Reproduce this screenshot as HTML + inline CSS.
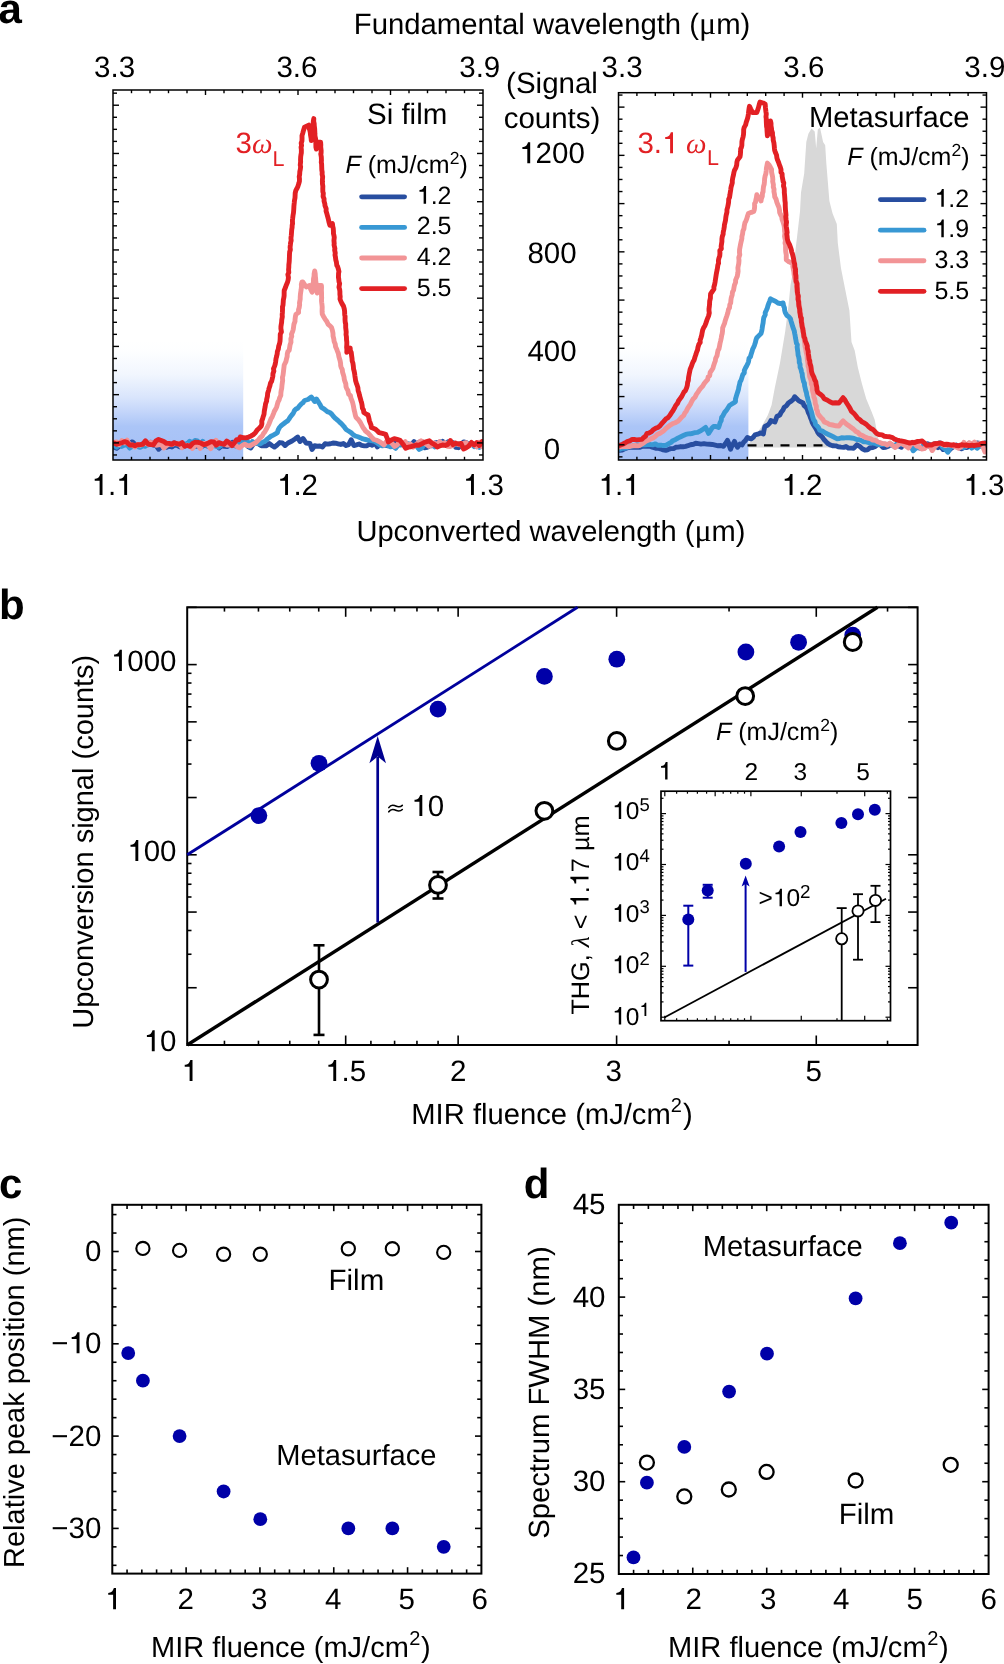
<!DOCTYPE html>
<html><head><meta charset="utf-8"><style>
html,body{margin:0;padding:0;background:#fff;}
body{width:1004px;height:1664px;overflow:hidden;font-family:"Liberation Sans",sans-serif;}
svg{display:block;will-change:transform;}
</style></head><body>
<svg width="1004" height="1664" viewBox="0 0 1004 1664" font-family="Liberation Sans, sans-serif" text-rendering="geometricPrecision">
<defs>
<linearGradient id="gb" gradientUnits="userSpaceOnUse" x1="0" y1="340" x2="0" y2="460"><stop offset="0" stop-color="#ffffff"/><stop offset="0.1" stop-color="#fdfeff"/><stop offset="0.29" stop-color="#f1f6fe"/><stop offset="0.48" stop-color="#d9e5fc"/><stop offset="0.6" stop-color="#c3d5fa"/><stop offset="0.72" stop-color="#abc5f7"/><stop offset="1" stop-color="#a5c0f6"/></linearGradient>
<clipPath id="cpa"><rect x="113" y="90" width="370" height="370"/></clipPath>
<clipPath id="cpb"><rect x="618.5" y="92.7" width="368.0" height="367.3"/></clipPath>
</defs>
<rect width="1004" height="1664" fill="#fff"/>
<text x="-1.5" y="23" font-size="42" text-anchor="start" font-weight="bold">a</text>
<text x="353.8" y="34" font-size="29.3">Fundamental wavelength (<tspan font-family="Liberation Serif" font-size="32">μ</tspan>m)</text>
<rect x="113" y="340" width="130.2" height="120" fill="url(#gb)"/>
<rect x="618.5" y="340" width="129.89999999999998" height="120" fill="url(#gb)"/>
<path d="M748.4 447.5 L748.4 444 L755 436 L762 426 L767.9 415 L771.6 405.1 L774.7 388.2 L780 363 L785.2 331.4 L788.4 306.2 L790.5 285.1 L793.6 268.3 L795.8 247.3 L796.8 238.9 L800 211.5 L801 192.6 L804.2 173.6 L806.3 142.1 L808.4 133.7 L811.5 128.4 L814.7 131.6 L816.2 148.4 L817.8 129.5 L820 127.4 L823.1 142.1 L825.2 145.2 L826.3 163.1 L829.4 201 L832.6 213.6 L836.8 224.1 L837.8 243.1 L841 268.3 L845.2 289.4 L849.4 310.4 L851.5 342 L854.7 350.4 L857.8 367.2 L862 384 L866.2 398.8 L871.5 411.4 L874.7 419.8 L877.8 436.6 L879.9 445 L881 447.5 Z" fill="#d8d8d8"/>
<line x1="747.5" y1="445.3" x2="838" y2="445.3" stroke="#000" stroke-width="2.2" stroke-dasharray="9 7.5"/>
<g clip-path="url(#cpa)">
<path d="M114 447.19 L116.63 448.23 L119.26 446.24 L121.89 444.14 L124.52 442.84 L127.15 444.3 L129.78 443.02 L132.42 441.86 L135.05 444.24 L137.68 444.96 L140.31 445.92 L142.94 443.77 L145.57 444.58 L148.2 444.74 L150.83 442.35 L153.46 444.99 L156.09 445.54 L158.72 449.25 L161.35 446.83 L163.98 445.4 L166.62 447.23 L169.25 446.12 L171.88 446.94 L174.51 445.06 L177.14 445.39 L179.77 446.88 L182.4 446.84 L185.03 445.86 L187.66 443.46 L190.29 445.22 L192.92 445.21 L195.55 446.3 L198.18 445.82 L200.82 447.14 L203.45 445.66 L206.08 445.57 L208.71 446.33 L211.34 443.62 L213.97 443.83 L216.6 443.74 L219.23 447.93 L221.86 445.87 L224.49 446.41 L227.12 446.55 L229.75 445.06 L232.38 442.39 L235.02 445.73 L237.65 444.56 L240.28 446.07 L242.91 443.15 L245.54 443.61 L248.17 446.65 L250.8 448.01 L253.43 443.84 L256.06 442.33 L258.69 443.99 L261.32 445.88 L263.95 445.58 L266.58 445.72 L269.22 443.57 L271.85 445.5 L274.48 447.07 L277.11 444.98 L279.74 442.56 L282.37 442.86 L285 445.54 L288 443 L292 441 L295 439 L297.7 437 L299.01 439.71 L300 441.5 L303 438.5 L304.34 440.45 L306 443 L310 443.5 L312 449.47 L314.62 445.76 L317.23 446.26 L319.85 446.02 L322.46 447.1 L325.08 443.68 L327.69 444.16 L330.31 443.75 L332.92 443.06 L335.54 443.21 L338.15 443.83 L340.77 444.43 L343.38 443.58 L346 445.55 L348.62 444.59 L351.23 439.74 L353.85 445.51 L356.46 444.84 L359.08 444 L361.69 445.43 L364.31 445.87 L366.92 445.72 L369.54 444.12 L372.15 445.34 L374.77 442.83 L377.38 447.02 L380 443.88 L382.62 444.58 L385.23 445.21 L387.85 445.77 L390.46 445.18 L393.08 446.21 L395.69 439.57 L398.31 443.03 L400.92 444.14 L403.54 444.07 L406.15 447.38 L408.77 444.28 L411.38 444.71 L414 441.54 L416.62 444.36 L419.23 442.11 L421.85 441.41 L424.46 447.87 L427.08 447.31 L429.69 445.89 L432.31 445.71 L434.92 442.88 L437.54 442.55 L440.15 444.97 L442.77 441.45 L445.38 444.33 L448 441.88 L450.62 444.22 L453.23 442.91 L455.85 447.39 L458.46 447.69 L461.08 445.15 L463.69 441.9 L466.31 442.66 L468.92 444.18 L471.54 443.1 L474.15 444.93 L476.77 446.78 L479.38 445.63 L482 444.57" fill="none" stroke="#284ea0" stroke-width="4.9" stroke-linejoin="round" stroke-linecap="round" />
<path d="M114 445.16 L116.61 447.18 L119.22 444.18 L121.83 446.4 L124.44 445.05 L127.06 444.57 L129.67 448.08 L132.28 446.35 L134.89 445.4 L137.5 446.38 L140.11 447.4 L142.72 445.79 L145.33 446.28 L147.94 443.79 L150.56 443.95 L153.17 443.89 L155.78 442.35 L158.39 441.51 L161 441.01 L163.61 443.2 L166.22 444.08 L168.83 444.13 L171.44 444.81 L174.06 442.66 L176.67 444.05 L179.28 445.07 L181.89 446.3 L184.5 444.02 L187.11 443.98 L189.72 441.22 L192.33 442.82 L194.94 440.5 L197.56 441.01 L200.17 445.48 L202.78 441.42 L205.39 445.11 L208 445.59 L210.61 444.68 L213.22 445.67 L215.83 446.13 L218.44 447.17 L221.06 445.37 L223.67 444.12 L226.28 443.66 L228.89 442.86 L231.5 444.17 L234.11 443.37 L236.72 446.25 L239.33 442.26 L241.94 442.18 L244.56 442.39 L247.17 440.53 L249.78 446.67 L252.39 441.49 L255 443.29 L260.5 443.7 L262.71 442.18 L265.45 440.94 L266.84 439.44 L268.9 437.8 L270.91 436.26 L273.27 435.09 L275.45 433.9 L277.4 432.7 L278.14 429.98 L279.48 427.5 L280.8 426 L283.05 424.19 L285.54 422.28 L287.6 420.9 L288.95 419.13 L290.56 416.56 L292.14 414.72 L293.46 412.86 L294.51 410.53 L296 409 L297.67 408.18 L299.26 406.16 L301.39 403.76 L303.05 402.71 L304.5 400.5 L308 399.5 L311.3 397 L312.93 399.06 L314.7 401.5 L316.5 399 L318 401.4 L319.95 404.48 L321.4 407.3 L323.91 408.8 L325.23 409.96 L327.26 411.6 L329.72 412.51 L331.6 414 L333.51 416.45 L335.72 418.7 L337.68 420.28 L340 422.5 L341.58 423.82 L344 426.52 L344.96 427.89 L346.4 429.76 L348.5 431 L351.01 432.54 L352.96 434.43 L355.3 436 L357.95 436.74 L360.21 437.66 L362.86 438.92 L365.5 439.5 L367.9 440.09 L369.88 440.36 L372.54 440.81 L375 441.5 L380 445.07 L382.62 445.86 L385.23 444.47 L387.85 445.45 L390.46 446.82 L393.08 446.38 L395.69 448.29 L398.31 444.56 L400.92 444.97 L403.54 443.72 L406.15 443.14 L408.77 444.02 L411.38 445.05 L414 445.77 L416.62 446.19 L419.23 449.44 L421.85 448.11 L424.46 443.22 L427.08 444.74 L429.69 443.79 L432.31 443.65 L434.92 446.88 L437.54 445.26 L440.15 441.58 L442.77 444.36 L445.38 444.25 L448 442.62 L450.62 442.51 L453.23 443 L455.85 444.26 L458.46 443.97 L461.08 444.77 L463.69 448.22 L466.31 444.69 L468.92 443.44 L471.54 444 L474.15 446.62 L476.77 444.3 L479.38 447.34 L482 443.46" fill="none" stroke="#3898d4" stroke-width="4.9" stroke-linejoin="round" stroke-linecap="round" />
<path d="M114 442.5 L116.62 441.85 L119.23 444.71 L121.85 440.67 L124.46 442.92 L127.08 440.11 L129.69 444.84 L132.31 444.96 L134.92 446.97 L137.54 444.51 L140.15 445.18 L142.77 444.25 L145.38 443.16 L148 444.28 L150.62 442.28 L153.23 443.12 L155.85 445.2 L158.46 444.84 L161.08 443.92 L163.69 448.02 L166.31 445.83 L168.92 443.97 L171.54 444.59 L174.15 443.64 L176.77 443.54 L179.38 443.57 L182 447.62 L184.62 445.63 L187.23 445.19 L189.85 445.89 L192.46 448.41 L195.08 445.49 L197.69 443.79 L200.31 448.46 L202.92 443.4 L205.54 443.49 L208.15 445.28 L210.77 448.66 L213.38 444.34 L216 440.32 L218.62 444.16 L221.23 443.49 L223.85 443.49 L226.46 444.93 L229.08 445.03 L231.69 445.18 L234.31 444.01 L236.92 446.52 L239.54 447.77 L242.15 445.7 L244.77 444.15 L247.38 445.62 L250 445.71 L255.4 442.9 L257.56 440.79 L258.87 439.36 L260.32 437.52 L262.2 436 L263.43 433.61 L264.96 431.63 L266.26 429.3 L267.65 426.58 L268.9 424.2 L269.98 421.31 L270.83 419.09 L272.25 416.69 L273.49 413.61 L274.41 411.13 L275.7 409 L276.75 406.69 L277.41 404.16 L277.97 402.02 L279.06 400.14 L279.62 397.84 L280.8 395.5 L280.89 392.75 L281.28 390.24 L281.73 388.15 L281.99 385.12 L282.29 382.9 L282.66 380.32 L282.43 377.42 L282.97 375.46 L283.31 372.91 L283.68 369.65 L283.91 367.71 L284.2 365 L285.9 361.6 L286.57 358.65 L287.17 356.54 L287.25 354.14 L287.88 351.48 L289.18 350.35 L289.7 347.24 L290.1 344.7 L290.97 342.25 L290.87 338.74 L291.75 336.27 L291.46 334.28 L292.56 331.67 L293.25 329.4 L293.57 327.04 L293.9 324.42 L295 321.48 L295.04 319.44 L295.38 316.7 L296 314.2 L298.6 312.5 L298.51 309.78 L299.16 307.78 L299.64 304.65 L299.49 302.95 L300.19 299.11 L300.22 296.92 L300.44 294.09 L300.77 291.97 L301.09 289.97 L301.47 286.64 L301.34 284.34 L302 282 L302.8 282 L304.73 284.81 L306.2 287 L309.5 285.5 L310.67 289.24 L312.1 292.2 L312.51 289.32 L312.83 286.86 L312.83 284.08 L313.43 282.05 L313.5 279.02 L314.05 276.27 L314.11 274.08 L314.7 271 L315.24 273.99 L315.35 276.4 L315.64 278.67 L315.73 280.85 L316.01 282.84 L316.27 285.26 L316.4 287.96 L316.79 291.27 L317.2 293 L317.83 290.84 L317.89 287.62 L318 285.4 L321.4 285.4 L321.53 287.28 L321.41 290.02 L321.54 292.89 L321.53 295.84 L321.66 297.69 L321.51 300.11 L321.66 302.26 L321.99 304.88 L322.2 307.13 L322.11 310.08 L322.12 311.8 L322.3 314.2 L323.67 316.77 L325.04 319.1 L326.83 321.56 L328.2 324.3 L329.99 325.79 L331.6 327.7 L332.4 330.37 L332.97 333.31 L333.07 336.19 L333.84 339.11 L334.1 341.3 L335.24 344.13 L335.55 346.67 L336.63 349.01 L337.5 351.4 L338.35 353.47 L338.94 356.9 L339.36 358.28 L340.11 360.78 L340.62 363.49 L340.66 365.49 L341.24 367.46 L342.27 369.62 L342.57 372.21 L343.37 374.83 L343.98 376.86 L344.31 379.51 L344.87 381.41 L345.78 383.75 L346.02 386.76 L346.8 388.7 L347.8 390.26 L348.67 394.1 L350.45 395.66 L351.02 398.39 L351.9 400.5 L352.56 402.28 L353.3 405.44 L353.64 407.2 L354.16 410.16 L354.84 412.71 L355.41 415.41 L356.1 417.5 L358.37 419.58 L360.4 422.5 L361.54 424.76 L362.83 427.23 L364.1 428.95 L365.5 431 L367.72 432.71 L369.95 435.16 L371.64 437.12 L373.9 439.5 L376.58 440.26 L380 442 L384 444.9 L386.65 441.09 L389.3 441.59 L391.95 443.29 L394.59 446.4 L397.24 444.85 L399.89 441.31 L402.54 443.62 L405.19 441.71 L407.84 445.41 L410.49 444.03 L413.14 447.22 L415.78 444.89 L418.43 442.47 L421.08 440.82 L423.73 442.24 L426.38 444.18 L429.03 446.21 L431.68 445.25 L434.32 443.11 L436.97 444.59 L439.62 441.62 L442.27 444.08 L444.92 442.68 L447.57 446.23 L450.22 446.57 L452.86 445.56 L455.51 442.71 L458.16 444.54 L460.81 444.85 L463.46 443.31 L466.11 442.64 L468.76 445.81 L471.41 443.91 L474.05 444.77 L476.7 446.77 L479.35 442.3 L482 446.62" fill="none" stroke="#f29496" stroke-width="4.9" stroke-linejoin="round" stroke-linecap="round" />
<path d="M114 443.04 L116.62 444.26 L119.24 443.36 L121.87 442.88 L124.49 441.61 L127.11 442.45 L129.73 445.14 L132.36 444.84 L134.98 445.83 L137.6 444.76 L140.22 444.65 L142.84 444.24 L145.47 440.76 L148.09 444.08 L150.71 444.61 L153.33 444.79 L155.96 440.91 L158.58 439.45 L161.2 440.48 L163.82 441.6 L166.44 443.39 L169.07 443.38 L171.69 444.39 L174.31 442.66 L176.93 443.76 L179.56 444.3 L182.18 442.59 L184.8 446.27 L187.42 445.47 L190.04 446.34 L192.67 443.38 L195.29 442.13 L197.91 442.4 L200.53 442.92 L203.16 444.44 L205.78 444.27 L208.4 442.97 L211.02 441.59 L213.64 441.89 L216.27 445.14 L218.89 442.62 L221.51 443.63 L224.13 444.31 L226.76 441.1 L229.38 442.75 L232 445.59 L235 442 L236.64 439.68 L238.77 439.81 L240.2 437 L243.5 437.8 L246.16 437.89 L248.6 437 L251.16 435.89 L253.32 434.58 L255.4 432.7 L257.31 429.88 L258.94 428.49 L261.3 426 L261.89 423.56 L261.75 421.05 L262.74 418.34 L263.07 417.1 L264.03 414.16 L264.28 411.26 L264.7 409 L265.14 406.73 L265.56 403.84 L266.65 400.89 L266.62 399.53 L267.41 396.38 L267.66 393.24 L268.65 390.25 L268.9 388.7 L269.86 385.94 L270.58 382.8 L271.65 381.28 L272.3 378.5 L272.84 376.22 L272.95 373.68 L273.84 371.14 L273.49 368.68 L274.71 365.85 L275.18 364.33 L275.62 361.89 L276 358.66 L276.6 356.5 L277.23 353.62 L277.34 351.56 L278.3 349.12 L278.67 346.2 L279.55 343.65 L280 341.3 L280.15 338.97 L280.23 336.55 L280.26 334.23 L281.41 331.87 L280.91 328.58 L280.93 326.67 L281.22 324.56 L281.63 322.24 L281.75 319.83 L282.31 316.76 L282.18 314.64 L282.38 312.71 L282.52 309.51 L282.49 306.87 L282.98 305.36 L283.21 302.29 L283.36 299.83 L283.83 297.8 L284.13 295.59 L284.15 292.56 L284.2 290.5 L285.45 287.52 L286.34 284.91 L287.6 282 L288.16 279.75 L288.44 277.37 L287.86 274.48 L288.79 272.46 L288.57 269.62 L288.78 267.51 L288.84 264.89 L289.18 262.05 L289.3 260 L289.41 257.2 L289.49 254.6 L289.65 252.09 L290.35 249.8 L290.1 247.3 L290.43 244.56 L290.61 242.56 L291.17 240.58 L290.94 238.14 L291.29 235.47 L291.49 232.82 L291.72 229.58 L292.1 227.5 L292.18 225.25 L292.55 223.62 L292.43 220.04 L292.69 218.23 L293.07 215.08 L293.47 212.87 L293.72 209.83 L293.83 208.13 L293.93 205.91 L294.27 202.7 L294.43 200.72 L294.99 197.88 L295.11 195.47 L295.2 193.1 L295.86 190.4 L297.06 188.24 L297.77 186.66 L298.8 183.54 L299.4 181.3 L299.49 179.02 L299.22 176.76 L299.67 174.38 L299.81 171.58 L300.28 169.54 L300.64 166.72 L300.24 165.04 L300.63 161.65 L300.54 159.83 L300.68 156.74 L300.93 155.03 L301.34 152.87 L301.37 149.75 L301.06 147.27 L301.59 145.57 L301.19 143.04 L301.94 140.99 L302.04 138.38 L302 135.6 L302.9 132.68 L303.65 129.94 L304.5 127.1 L308.7 125.1 L308.89 127.66 L309.8 130.17 L310.29 132.55 L310.54 135.16 L311.11 138.3 L311.3 140.6 L311.8 138.47 L311.98 136.14 L312.19 132.38 L312.45 131.03 L312.19 128.83 L312.96 126.33 L313.19 123.57 L313.35 120.97 L313.8 118.6 L313.68 121.25 L314.16 123.46 L314.29 125.88 L314.67 128.74 L314.82 131.82 L314.87 133.7 L315.03 136.3 L315.5 138.27 L315.83 140.72 L315.85 143.92 L315.9 147.07 L316.4 149.1 L317.24 145.22 L318 142.3 L320.6 142.3 L320.8 144.91 L320.7 146.92 L321.15 150.55 L321.11 152.95 L320.79 154.02 L321.3 156.85 L321.45 160.24 L321.28 162.18 L321.62 164 L321.69 166.52 L321.8 169.95 L322.2 172.26 L322.11 174.14 L322.66 176.8 L322.41 179.65 L322.39 181.9 L322.53 184.32 L322.85 186.15 L322.78 188.92 L322.83 191.71 L323.32 193.26 L323.1 196.5 L324.05 198.73 L324.05 201.12 L324.84 203.89 L324.97 205.67 L326.15 208.68 L326.07 211.07 L327 214.17 L327.45 215.84 L328.2 218.5 L328.96 222.03 L329.9 225.3 L332.4 223.6 L332.73 226.26 L333.24 228.41 L333.43 230.91 L333.48 233.66 L333.93 235.37 L334.26 237.44 L333.95 240.52 L334.21 243.53 L334.06 245 L334.88 248.51 L334.64 250.07 L335.26 252.95 L335 255.09 L335.45 257.12 L335.8 260 L336.4 262.01 L336.8 265.48 L337.62 266.58 L338.4 269.3 L338.94 271.63 L338.56 273.3 L338.44 277.26 L338.74 279.03 L339.01 281.74 L339.63 283.53 L338.97 287.21 L339.63 289.38 L339.9 291.55 L339.9 294.46 L340.2 296.62 L340 299 L340.82 301.24 L342.11 303.86 L343.49 306.1 L344.3 309 L344.6 311.39 L344.7 314.66 L345.08 316.44 L345.02 319.58 L345.21 322.15 L345.68 324.17 L345.69 327.59 L345.88 329.15 L346.22 331.95 L346.04 334.66 L346.44 336.86 L346.53 339.85 L346.82 342.14 L346.8 344.7 L346.64 347.28 L346.9 349.86 L346.8 352.3 L348.72 350.29 L350.2 348 L350.33 350.77 L351.26 352.47 L351.65 355.97 L352.01 358.4 L352.17 360.94 L352.87 362.94 L353.33 366.19 L353.57 369.09 L354.12 371 L354.61 373.53 L354.89 375.82 L355.3 378.5 L355.56 380.45 L356.56 383.92 L357.03 384.88 L357.91 387.79 L358.16 390.76 L358.99 393.11 L359.44 395.23 L360.29 398.2 L360.95 400.69 L361.56 402.61 L362.1 405.18 L362.42 408.23 L363.46 409.82 L363.8 412.4 L365.83 413.79 L368 415 L368.7 417.45 L369.34 420.61 L369.99 422.35 L371.03 425.05 L371.4 427.6 L375.6 429.3 L377.24 430.76 L379 432.7 L382.41 433.47 L385.8 434.4 L386.6 436.89 L387.53 439.01 L388.3 442 L391.07 440.16 L394.2 438.6 L397.11 439.36 L400 440.3 L403 444.17 L405.63 448.29 L408.27 447.15 L410.9 446.78 L413.53 445.82 L416.17 445 L418.8 445.26 L421.43 444.11 L424.07 442.46 L426.7 441.58 L429.33 440.82 L431.97 443.17 L434.6 444.59 L437.23 447.05 L439.87 445.86 L442.5 445.03 L445.13 445.44 L447.77 444.36 L450.4 440.55 L453.03 444.6 L455.67 443.24 L458.3 444.02 L460.93 443.39 L463.57 449.02 L466.2 447.74 L468.83 445.95 L471.47 442.46 L474.1 444.98 L476.73 442.56 L479.37 445.52 L482 441.6" fill="none" stroke="#e22024" stroke-width="4.9" stroke-linejoin="round" stroke-linecap="round" />
</g>
<g clip-path="url(#cpb)">
<path d="M620 450.3 L622.16 450.11 L625.08 448.6 L627.71 447.69 L630 447.3 L632.98 447.4 L634.94 447.35 L637.18 447.14 L640.13 447.18 L642.5 446.31 L644.93 446.08 L647.39 446.23 L649.8 446.3 L652.32 447.27 L655.58 448.21 L657.74 448.18 L660.28 448.79 L663.18 449.83 L665.8 450.3 L668.2 449.58 L670.52 448.64 L673.52 448.56 L675.7 447.3 L678.32 447.1 L680.76 446.57 L682.96 446.76 L685.7 446.3 L687.97 445.71 L690.46 444.79 L693.56 444.28 L695.7 443.3 L698.47 443.61 L700.94 444.05 L703.88 443.62 L706.67 444.13 L709.6 444.3 L712.24 444.48 L715.26 445.17 L718.21 445.79 L720.98 445.5 L723.5 446.3 L725.52 443.54 L727.5 440.4 L728.69 443.26 L729.64 446.73 L730.5 449.3 L731.64 446.37 L733 444.12 L734.5 441.4 L735.77 444.36 L737.5 447.3 L740 443.9 L742 444.9 L743.74 442.05 L745.29 440.71 L747.5 437.4 L751 438.9 L753.27 437.28 L755 434.9 L757.62 434.21 L760.9 432.9 L763.4 433.9 L763.83 431 L764.28 428.81 L764.9 426.5 L767.9 425 L769.75 422.81 L770.9 420.5 L774.9 422 L775.89 419.42 L776.9 416.5 L779.8 415 L781.37 411.97 L782.98 409.89 L784.2 407.2 L786.52 405.7 L788.4 403 L791.5 400.9 L793.03 399.62 L794.7 396.7 L796.74 398.71 L798.9 400.9 L803.1 403 L804.04 405.59 L805.86 407.01 L807.3 409.3 L808.25 412.31 L809.67 415.16 L810.5 417.7 L811.48 419.9 L812.17 422.34 L813.6 425 L815.1 427.33 L816.81 430.28 L817.8 432.4 L819.34 434.44 L821.05 435.84 L822.54 437.42 L824.2 439.8 L826.24 441.91 L828.31 443.88 L830.5 445 L833.09 445.8 L835.86 445.83 L838.14 446.74 L841 447.1 L843.69 447.32 L846.02 446.55 L848.43 448.09 L851.31 448.12 L853.6 448.2 L857 444.81 L859.61 446.31 L862.22 448.76 L864.84 450.05 L867.45 449.87 L870.06 447.77 L872.67 447.54 L875.29 446.42 L877.9 444.12 L880.51 444.83 L883.12 447.62 L885.73 447.34 L888.35 446.22 L890.96 444.51 L893.57 445.64 L896.18 445.16 L898.8 446.1 L901.41 447.23 L904.02 442.67 L906.63 445 L909.24 443.36 L911.86 443.73 L914.47 443.31 L917.08 447.37 L919.69 448 L922.31 447.92 L924.92 445.67 L927.53 443.64 L930.14 444.82 L932.76 446.28 L935.37 446.29 L937.98 447.66 L940.59 446.27 L943.2 449.63 L945.82 448.77 L948.43 450.86 L951.04 448.47 L953.65 446.77 L956.27 445.08 L958.88 447.45 L961.49 448.7 L964.1 447.55 L966.71 447.6 L969.33 446.4 L971.94 445.71 L974.55 445.7 L977.16 442.85 L979.78 443.41 L982.39 445.49 L985 446.37" fill="none" stroke="#284ea0" stroke-width="4.9" stroke-linejoin="round" stroke-linecap="round" />
<path d="M620 449.3 L622.5 448.31 L625.08 448.26 L627.84 447.26 L630 446.3 L632.48 445.95 L634.85 445.42 L637.08 444.9 L640.11 445.27 L642.58 444.54 L644.9 444.79 L647.46 444.46 L649.8 444.3 L652.66 444.81 L655.41 443.89 L657.54 445.29 L661.01 445.14 L663.06 445.56 L665.8 445.3 L668.32 443.9 L671.03 442.37 L672.87 440.63 L675.7 439.4 L678.33 437.85 L680.78 436.71 L683.32 435.47 L685.7 434.4 L688.27 433.87 L690.23 433.78 L692.92 433.25 L694.9 432.65 L697.6 432.4 L700.47 430.83 L702.68 429.51 L705.6 427.4 L707.19 430.39 L708.6 433.4 L710.17 431.02 L712.04 427.92 L713.6 426.4 L716.03 426.46 L718.6 427.4 L719.44 424.96 L720.11 422.59 L721.2 420.63 L721.6 417.5 L722.92 415.72 L724.78 412.1 L726.62 410.02 L727.78 408.22 L729.5 405.5 L731.46 404.22 L733.76 402.96 L735.5 401.5 L735.51 398.92 L736.34 396.16 L736.91 394.22 L737.77 391.62 L738.53 389.29 L738.82 387.16 L739.56 384.43 L740 381.9 L741.19 379.89 L741.95 377.33 L742.77 374.69 L744.31 372.85 L744.28 370.49 L745.57 367.8 L746.61 365.96 L747.86 363.49 L748.55 361.47 L749.05 358.42 L750.5 356.7 L750.98 354.69 L752 351.55 L752.67 349.11 L753.71 347.15 L754.53 345.03 L755.38 342.57 L755.88 340.17 L756.8 337.7 L758.88 335.6 L761 333.5 L761.81 330.59 L762.17 328.4 L762.58 325.43 L763.09 322.9 L763.4 320.01 L763.79 317.59 L765.24 314.75 L765.2 312.5 L766.31 310.35 L767.23 308.32 L767.88 305.85 L768.77 303.39 L769.61 301.31 L770.5 298.8 L772.58 300.1 L775.4 301.3 L777.9 303 L780.49 303.61 L783.1 303 L783.58 305.87 L784.42 307.67 L784.61 310.14 L785.2 312.5 L786.93 315.45 L788.8 316.74 L790.5 318.8 L791.06 321.07 L791.78 323.55 L792.63 326.41 L793.23 328.07 L794.32 331.15 L794.7 333.5 L795.12 335.48 L795.53 338.28 L796 340.6 L796.37 343 L797.35 344.67 L797.13 346.92 L797.53 350 L797.9 352.5 L798.13 355.25 L798.65 356.75 L799.19 359.54 L799.27 362.62 L800.03 364.32 L800.1 367.33 L801 369.3 L801.52 371.82 L802.16 373.56 L802.41 376.68 L803.07 379.28 L803.54 381.53 L804.42 383.24 L804.61 385.99 L805.2 388.2 L805.73 390.62 L806.43 392.64 L806.83 395.54 L807.53 397.5 L808.07 400.36 L808.87 402.75 L809.4 405.1 L810.14 408.12 L810.73 409.8 L811.66 412.51 L812.14 414.66 L812.8 417.39 L813.6 419.8 L814.93 421.46 L815.53 424.38 L817.21 426.08 L818.43 427.41 L819.9 430.3 L822.4 431.14 L825.4 433.01 L828.4 434.5 L831.15 435.8 L834.25 437.26 L836.8 438.7 L839.49 438.56 L841.54 437.82 L844.54 437.94 L847.08 437.64 L849.4 437.7 L851.42 437.98 L854.14 438.46 L856.79 439.53 L858.99 439.74 L861.81 440.82 L863.58 441.73 L866.2 441.9 L868.84 442.69 L871.51 442.71 L874.73 443.25 L877.08 444.33 L880 444.5 L884 444.09 L886.66 444.41 L889.32 444.25 L891.97 444.75 L894.63 447 L897.29 442.92 L899.95 444.25 L902.61 444.42 L905.26 443.68 L907.92 444.96 L910.58 445.63 L913.24 450.81 L915.89 448.29 L918.55 446.79 L921.21 448.01 L923.87 444.61 L926.53 444.31 L929.18 446.52 L931.84 445.18 L934.5 443.74 L937.16 444.06 L939.82 442.61 L942.47 447.11 L945.13 448.92 L947.79 452.27 L950.45 447.61 L953.11 446.11 L955.76 445.64 L958.42 446.95 L961.08 446.36 L963.74 447.71 L966.39 445.98 L969.05 443.14 L971.71 448.19 L974.37 445.77 L977.03 448.24 L979.68 446.11 L982.34 446.33 L985 442.79" fill="none" stroke="#3898d4" stroke-width="4.9" stroke-linejoin="round" stroke-linecap="round" />
<path d="M620 447 L622.29 446.35 L625.11 446.51 L627.82 446.62 L629.85 446.44 L632.49 445.73 L635.13 445.51 L637.84 445.85 L639.9 445.3 L642.03 443.92 L644.51 442.14 L646.51 440.82 L648.78 440.01 L651.25 438.61 L653.16 437.85 L655.22 436.48 L657.52 434.31 L659.8 433.4 L661.97 432 L663.69 430.75 L666.13 428.35 L667.67 426.96 L669.8 425.4 L672.39 423.8 L675.2 422.73 L677.7 421.4 L679.74 419.42 L681.74 417.15 L683.7 415.5 L684.84 413 L686.29 411.18 L687.78 408.2 L688.8 406.63 L690.45 404.13 L691.7 401.5 L693.03 399.08 L695.03 397.26 L696.35 394.37 L697.98 392.08 L699.6 389.6 L701.14 387.74 L702.79 386.05 L704.33 383.33 L705.75 381.7 L707.6 379.6 L708.21 376.89 L709.68 375.56 L710.18 372.4 L711.59 370.3 L712.95 368.24 L713.6 365.7 L714.27 363.66 L715.32 360.96 L715.65 358.41 L717.05 355.72 L717.54 352.72 L717.99 350.53 L718.99 348.82 L719.6 345.7 L719.99 343.51 L720.72 340.5 L721.2 338.23 L721.65 335.52 L722.19 333.56 L722.57 330.63 L722.67 327.9 L723.5 325.8 L724.6 323.32 L725.12 321.05 L726.18 317.8 L726.88 315.79 L727.83 312.83 L728.49 309.33 L729.5 307.9 L729.84 304.55 L730.7 302.94 L730.93 299.86 L731.34 297.42 L732.15 294.9 L732.5 292 L733.57 290.07 L733.96 287.7 L734.48 284.92 L735.59 282.37 L735.59 280.11 L736.64 277.59 L737.22 276.43 L737.8 273.3 L738.1 271.13 L737.9 267.93 L738.26 265.87 L738.76 263.42 L739 260.58 L738.78 257.63 L739.79 254.61 L739.48 252.52 L739.55 249.64 L740 247.3 L740.52 244.55 L741.08 241.85 L741.87 238.53 L741.88 236.64 L742.56 233.95 L742.93 230.9 L743.97 228.62 L744.2 226.2 L744.93 222.8 L745.74 221.37 L746.8 218.63 L747.36 216.6 L748.4 213.6 L751.4 212.33 L753.7 211.5 L754.29 209.68 L754.63 207.12 L754.57 203.64 L755.5 202.22 L755.85 199.77 L756.47 197.41 L756.8 194.7 L758.18 197.07 L759.65 198.75 L761 201 L761.4 198.62 L762.3 196.44 L762.47 193.01 L763.11 191.79 L763.18 189.59 L763.54 186.45 L764.2 184.2 L764.48 181.38 L764.61 178.78 L765.18 175.82 L765.91 173.61 L766.28 170.14 L766.42 168.3 L766.93 165.61 L767.4 163.1 L768.82 164.62 L770.46 167.37 L771.6 169.4 L771.54 171.91 L772.08 174.45 L772.61 176.91 L772.84 179.49 L772.67 181.39 L773.41 184.75 L773.27 186.88 L774.05 189.24 L773.93 191.61 L774.55 194.63 L774.7 196.8 L776.09 199.31 L776.86 202.35 L777.93 205.01 L778.9 207.3 L779.45 209.71 L779.67 212.45 L780.65 214.7 L781.75 216.7 L782.09 219.43 L782.92 221.59 L783.74 224.25 L784.2 226.2 L784.42 228.02 L784.61 231.24 L784.93 233.12 L784.53 236.2 L784.94 238.39 L785.45 240.26 L785.03 243.06 L785.63 245.23 L785.58 247.85 L785.6 250.06 L785.74 251.91 L786.31 255.16 L786.25 257.12 L786.3 259.9 L788.58 261.59 L790.41 262.29 L792.6 264.1 L792.85 266.51 L793.37 269.39 L793.86 271.64 L794.03 273.92 L794.49 276.87 L795.16 278.87 L795.85 282.01 L796.55 284.16 L796.42 286.79 L796.8 289.4 L797.05 291.78 L797.59 294.18 L797.47 296.81 L798.41 299.83 L798.88 301.7 L798.94 304.23 L799.5 306.59 L799.76 308.61 L800.06 312.61 L800.77 313.89 L800.67 316.78 L800.96 319.23 L801.71 321.5 L801.94 324.41 L802.13 326.08 L803.08 328.61 L803.1 331.4 L803.33 334.14 L803.39 336.05 L804.23 339.02 L804.46 341.82 L804.8 343.5 L805.01 346.27 L805.73 348.66 L806.01 351.21 L806.46 353.28 L807.09 355.9 L807.23 358.25 L807.57 360.85 L808.05 364 L808.03 366.08 L808.75 368.14 L808.89 370.55 L809.4 373.5 L809.59 376.41 L810.32 378.32 L811.2 381.02 L811.35 384.07 L812.35 385.94 L812.3 389.48 L812.78 391.59 L813.6 394.5 L813.81 396.76 L814.7 398.99 L815.09 401.03 L815.3 403.51 L816.36 406.25 L816.37 409.12 L817.36 410.94 L817.8 413.5 L819.43 415.8 L821.07 417.69 L822.73 419.26 L824.2 421.9 L826.93 422.94 L829.3 424.28 L832.6 425 L835.91 425.8 L838.9 426.1 L841.02 423.19 L843.1 420.8 L845.05 422.91 L847.01 424.51 L849.4 426.1 L851.52 427.77 L853.54 429.12 L855.93 431.5 L857.73 432.25 L859.9 434.5 L862.49 435.52 L865.07 437.17 L867.88 438.14 L870.4 438.7 L872.7 440 L875.21 440.19 L878.04 442.01 L879.69 442.48 L882.68 443.59 L884.96 443.67 L887.3 445 L890 443.05 L892.64 445.4 L895.28 447.45 L897.92 445.16 L900.56 442.72 L903.19 444.4 L905.83 446.07 L908.47 447.9 L911.11 443.91 L913.75 442.36 L916.39 445.81 L919.03 446.56 L921.67 448.94 L924.31 448.67 L926.94 446.41 L929.58 445.27 L932.22 450.56 L934.86 446.69 L937.5 444.35 L940.14 442.82 L942.78 444.75 L945.42 445.53 L948.06 444.82 L950.69 445.14 L953.33 445.92 L955.97 447.03 L958.61 448.23 L961.25 446.88 L963.89 442.4 L966.53 445.82 L969.17 442.77 L971.81 444.2 L974.44 442.1 L977.08 444.31 L979.72 443.53 L982.36 445.24 L985 452.01" fill="none" stroke="#f29496" stroke-width="4.9" stroke-linejoin="round" stroke-linecap="round" />
<path d="M620 445.3 L622.58 444.27 L625 443 L627.19 441.67 L629.76 440.89 L631.9 439.4 L634.27 439.52 L636.59 439.82 L639.49 439.57 L641.9 439.4 L643.72 437.45 L645.74 435.97 L646.9 433.4 L648.83 433.17 L651.57 431.55 L653.12 429.78 L655.53 428.36 L657.8 427.4 L659.83 425.92 L661.82 423.44 L663.8 421.4 L665.84 418.94 L667.78 417.89 L669.8 415.5 L671.42 412.85 L672.91 410.76 L674.32 408.29 L675.7 405.5 L677.45 403.42 L678.57 400.78 L679.78 399.09 L681.71 396.49 L682.7 394.5 L683.97 392.01 L685.53 390.43 L686.7 387.6 L687.32 385.43 L687.65 382.31 L688.35 380.33 L688.56 377.4 L689.22 373.91 L689.7 371.6 L690.16 369.17 L691.42 366.31 L692.11 364.19 L692.93 362.1 L694.11 360.13 L694.92 357.24 L695.88 354.55 L696.5 352.38 L697.6 349.7 L697.9 347.51 L698.82 344.47 L700.21 342.42 L700.14 340.21 L700.96 337.76 L701.69 335.21 L702.18 332.41 L702.63 330.2 L703.6 327.8 L704.92 325.68 L705.73 323.63 L706.78 320.41 L707.49 318.66 L708.6 315.9 L709.29 312.89 L709 310.66 L709 308.88 L709.31 306.66 L709.56 304.06 L709.68 301.18 L710.4 298.17 L710.44 295.85 L710.6 293.9 L712.08 291.76 L713.9 289.2 L713.89 286.98 L714.67 284.27 L715.07 282.15 L715.33 280.26 L715.82 277.2 L716.24 274.38 L716.58 272.48 L717.1 270.09 L717.56 267.44 L717.8 265.3 L718.56 263.14 L718.41 260.55 L718.89 258.28 L719.76 255.87 L719.95 253.13 L719.82 250.64 L721.35 248.76 L721.15 246.4 L721.53 243.88 L721.89 241.63 L721.91 239.16 L722.26 236.63 L723.14 234.15 L723.22 232.2 L723.82 229.54 L724.32 226.69 L724.39 225.03 L724.97 222.61 L725.53 220.19 L725.8 217.5 L726.13 215.41 L726.94 212.08 L726.96 209.63 L727.63 207.37 L728.11 204.97 L728.6 202.26 L728.7 199.12 L729.48 197.62 L729.87 195.27 L730.17 193.08 L730.7 189.84 L730.96 187.67 L731.6 185.18 L732.3 182.85 L732.28 180.61 L732.8 177.6 L733.49 174.83 L733.86 172.71 L734.53 170.2 L735.85 167.86 L736.7 164.98 L736.91 162.06 L737.5 160 L740 156.8 L740.37 154.51 L740.57 151.99 L740.68 148.91 L741.36 147.46 L741.84 145.45 L741.93 141.72 L742.3 139.63 L743.03 137.05 L743.5 134.6 L743.64 132.1 L743.67 129.48 L744.2 127.4 L745.64 124.86 L746.27 122.08 L747.4 118.9 L748.03 116.4 L748.38 114.03 L748.72 111.14 L749.06 108.52 L749.5 106.3 L750.78 108.99 L752.6 112.6 L756.8 112.6 L757.6 110.17 L758.57 107.22 L759.23 104.46 L760 102.1 L763.07 102.99 L765.2 104.2 L765.43 107.29 L765.69 109.69 L765.89 111.57 L766.29 113.96 L765.98 116.79 L766.25 118.52 L766.28 120.73 L766.4 123.51 L766.56 126.43 L766.94 128.34 L767.04 130.8 L767.23 133.49 L767.4 135.8 L768.16 133.65 L768.85 130.72 L768.4 128.16 L769.65 125.94 L770.25 123.51 L770.5 121 L771.01 123.3 L771.03 125.85 L771.49 128.51 L771.64 130.43 L772.48 132.76 L772.5 135.35 L773.15 137.8 L773.22 140.24 L773.92 142.92 L774.18 145.26 L774.46 148.43 L774.7 150.5 L775.55 152.77 L776.57 155.12 L776.87 157.71 L777.47 159.73 L778.54 162.27 L779.35 164.79 L780.08 166.41 L781 169.4 L781 172.44 L782.11 173.77 L782.18 176.36 L782.69 178.96 L783.18 181.7 L783.78 182.89 L783.49 186.02 L784.2 188.4 L784.35 191.15 L784.31 192.41 L784.56 195.1 L784.79 197.82 L784.93 200.62 L785.25 202.82 L785.25 205.28 L785.37 207.95 L785.51 210.33 L785.75 212.54 L786 215.15 L785.78 216.73 L786.09 219.63 L786.54 222.13 L786.1 225.19 L786.23 226.32 L786.74 229.46 L787.15 232.6 L786.75 233.91 L787.1 236.34 L787.3 238.9 L788.1 241.79 L789.54 244.61 L790.5 247.3 L791.28 249.83 L791.76 252.12 L792.43 253.91 L793.25 257.27 L793.69 259.54 L794.01 261.84 L794.7 264.1 L794.8 266.75 L795.55 269.33 L795.47 271.21 L795.57 274 L795.95 275.81 L796 279.14 L796.14 281.3 L797.11 283.7 L797.11 286.36 L797.29 288.54 L797.38 291.65 L797.71 293.91 L798.37 296.16 L798.05 299.38 L798.65 301.79 L798.75 304.07 L798.9 306.2 L799.71 309.33 L799.83 312.21 L800.09 313.62 L800.5 316.67 L801.38 318.22 L801.33 321.67 L801.8 323.8 L802.15 326.81 L802.74 328.79 L803.1 331.4 L803.61 333.68 L804.03 336.72 L804.91 338.52 L805.28 340.89 L806.62 344 L807.33 346.02 L807.3 348.3 L808.18 351.13 L808.35 353.78 L808.72 356.09 L809.04 359.1 L809.74 360.77 L809.91 363.35 L810.84 366.1 L811.25 368.96 L811.5 371.4 L812.34 374.22 L813.73 376.84 L814.7 379.8 L815.78 381.66 L816.08 384.14 L816.8 387.23 L816.96 389.92 L817.8 392.4 L820.27 394.17 L822.51 396.06 L824.2 398.8 L827.1 400.02 L829.85 401.77 L832.6 403 L835.68 402.81 L838.9 403 L840.94 400.53 L843.1 397.7 L844.65 399.56 L846.06 401.99 L847.3 404 L848.6 406 L850.24 408.84 L851.5 411.4 L853.84 413.33 L855.84 415.8 L857.67 418.26 L859.9 419.8 L861.8 421.74 L864.06 422.95 L866.34 424.36 L868.29 426.36 L870.4 428.2 L872.43 429.19 L874.5 431.03 L876.76 433.58 L878.9 434.5 L882.11 434.86 L884.52 436.3 L887.3 436.6 L889.82 436.79 L892.55 437.61 L894.66 439.2 L897.1 440 L899.57 440.64 L902.32 441.16 L904.66 441.64 L907.17 442.26 L909.7 443.1 L912.26 442.32 L914.68 442.62 L917.22 441.52 L919.38 441.34 L922.2 441 L924.56 443.04 L926.4 445.2 L929.19 445.02 L931.57 444.93 L934.14 443.69 L936.37 443.57 L939 443.1 L941.85 443.51 L943.91 444.53 L946.59 444.3 L948.8 444.55 L951.5 445.2 L953.84 444.76 L955.98 445.53 L958.82 445.68 L961.51 444.79 L964 445.2 L966.54 445.02 L969.24 445.67 L971.93 445.22 L974.09 445.71 L976.6 445.2 L979.47 444.74 L982.56 443.14 L985 443.1" fill="none" stroke="#e22024" stroke-width="4.9" stroke-linejoin="round" stroke-linecap="round" />
</g>
<rect x="113" y="90" width="370" height="370" fill="none" stroke="#000" stroke-width="1.5"/>
<line x1="131.5" y1="460" x2="131.5" y2="456.8" stroke="#000" stroke-width="1.4" />
<line x1="131.5" y1="90" x2="131.5" y2="93.2" stroke="#000" stroke-width="1.4" />
<line x1="150" y1="460" x2="150" y2="456.8" stroke="#000" stroke-width="1.4" />
<line x1="150" y1="90" x2="150" y2="93.2" stroke="#000" stroke-width="1.4" />
<line x1="168.5" y1="460" x2="168.5" y2="456.8" stroke="#000" stroke-width="1.4" />
<line x1="168.5" y1="90" x2="168.5" y2="93.2" stroke="#000" stroke-width="1.4" />
<line x1="187" y1="460" x2="187" y2="456.8" stroke="#000" stroke-width="1.4" />
<line x1="187" y1="90" x2="187" y2="93.2" stroke="#000" stroke-width="1.4" />
<line x1="205.5" y1="460" x2="205.5" y2="455" stroke="#000" stroke-width="1.4" />
<line x1="205.5" y1="90" x2="205.5" y2="95" stroke="#000" stroke-width="1.4" />
<line x1="224" y1="460" x2="224" y2="456.8" stroke="#000" stroke-width="1.4" />
<line x1="224" y1="90" x2="224" y2="93.2" stroke="#000" stroke-width="1.4" />
<line x1="242.5" y1="460" x2="242.5" y2="456.8" stroke="#000" stroke-width="1.4" />
<line x1="242.5" y1="90" x2="242.5" y2="93.2" stroke="#000" stroke-width="1.4" />
<line x1="261" y1="460" x2="261" y2="456.8" stroke="#000" stroke-width="1.4" />
<line x1="261" y1="90" x2="261" y2="93.2" stroke="#000" stroke-width="1.4" />
<line x1="279.5" y1="460" x2="279.5" y2="456.8" stroke="#000" stroke-width="1.4" />
<line x1="279.5" y1="90" x2="279.5" y2="93.2" stroke="#000" stroke-width="1.4" />
<line x1="298" y1="460" x2="298" y2="455" stroke="#000" stroke-width="1.4" />
<line x1="298" y1="90" x2="298" y2="95" stroke="#000" stroke-width="1.4" />
<line x1="316.5" y1="460" x2="316.5" y2="456.8" stroke="#000" stroke-width="1.4" />
<line x1="316.5" y1="90" x2="316.5" y2="93.2" stroke="#000" stroke-width="1.4" />
<line x1="335" y1="460" x2="335" y2="456.8" stroke="#000" stroke-width="1.4" />
<line x1="335" y1="90" x2="335" y2="93.2" stroke="#000" stroke-width="1.4" />
<line x1="353.5" y1="460" x2="353.5" y2="456.8" stroke="#000" stroke-width="1.4" />
<line x1="353.5" y1="90" x2="353.5" y2="93.2" stroke="#000" stroke-width="1.4" />
<line x1="372" y1="460" x2="372" y2="456.8" stroke="#000" stroke-width="1.4" />
<line x1="372" y1="90" x2="372" y2="93.2" stroke="#000" stroke-width="1.4" />
<line x1="390.5" y1="460" x2="390.5" y2="455" stroke="#000" stroke-width="1.4" />
<line x1="390.5" y1="90" x2="390.5" y2="95" stroke="#000" stroke-width="1.4" />
<line x1="409" y1="460" x2="409" y2="456.8" stroke="#000" stroke-width="1.4" />
<line x1="409" y1="90" x2="409" y2="93.2" stroke="#000" stroke-width="1.4" />
<line x1="427.5" y1="460" x2="427.5" y2="456.8" stroke="#000" stroke-width="1.4" />
<line x1="427.5" y1="90" x2="427.5" y2="93.2" stroke="#000" stroke-width="1.4" />
<line x1="446" y1="460" x2="446" y2="456.8" stroke="#000" stroke-width="1.4" />
<line x1="446" y1="90" x2="446" y2="93.2" stroke="#000" stroke-width="1.4" />
<line x1="464.5" y1="460" x2="464.5" y2="456.8" stroke="#000" stroke-width="1.4" />
<line x1="464.5" y1="90" x2="464.5" y2="93.2" stroke="#000" stroke-width="1.4" />
<line x1="113" y1="442.9" x2="119" y2="442.9" stroke="#000" stroke-width="1.4" />
<line x1="483" y1="442.9" x2="477" y2="442.9" stroke="#000" stroke-width="1.4" />
<line x1="113" y1="430.84" x2="117" y2="430.84" stroke="#000" stroke-width="1.4" />
<line x1="483" y1="430.84" x2="479" y2="430.84" stroke="#000" stroke-width="1.4" />
<line x1="113" y1="418.78" x2="117" y2="418.78" stroke="#000" stroke-width="1.4" />
<line x1="483" y1="418.78" x2="479" y2="418.78" stroke="#000" stroke-width="1.4" />
<line x1="113" y1="406.72" x2="117" y2="406.72" stroke="#000" stroke-width="1.4" />
<line x1="483" y1="406.72" x2="479" y2="406.72" stroke="#000" stroke-width="1.4" />
<line x1="113" y1="394.66" x2="119" y2="394.66" stroke="#000" stroke-width="1.4" />
<line x1="483" y1="394.66" x2="477" y2="394.66" stroke="#000" stroke-width="1.4" />
<line x1="113" y1="382.6" x2="117" y2="382.6" stroke="#000" stroke-width="1.4" />
<line x1="483" y1="382.6" x2="479" y2="382.6" stroke="#000" stroke-width="1.4" />
<line x1="113" y1="370.54" x2="117" y2="370.54" stroke="#000" stroke-width="1.4" />
<line x1="483" y1="370.54" x2="479" y2="370.54" stroke="#000" stroke-width="1.4" />
<line x1="113" y1="358.48" x2="117" y2="358.48" stroke="#000" stroke-width="1.4" />
<line x1="483" y1="358.48" x2="479" y2="358.48" stroke="#000" stroke-width="1.4" />
<line x1="113" y1="346.42" x2="119" y2="346.42" stroke="#000" stroke-width="1.4" />
<line x1="483" y1="346.42" x2="477" y2="346.42" stroke="#000" stroke-width="1.4" />
<line x1="113" y1="334.36" x2="117" y2="334.36" stroke="#000" stroke-width="1.4" />
<line x1="483" y1="334.36" x2="479" y2="334.36" stroke="#000" stroke-width="1.4" />
<line x1="113" y1="322.3" x2="117" y2="322.3" stroke="#000" stroke-width="1.4" />
<line x1="483" y1="322.3" x2="479" y2="322.3" stroke="#000" stroke-width="1.4" />
<line x1="113" y1="310.24" x2="117" y2="310.24" stroke="#000" stroke-width="1.4" />
<line x1="483" y1="310.24" x2="479" y2="310.24" stroke="#000" stroke-width="1.4" />
<line x1="113" y1="298.18" x2="119" y2="298.18" stroke="#000" stroke-width="1.4" />
<line x1="483" y1="298.18" x2="477" y2="298.18" stroke="#000" stroke-width="1.4" />
<line x1="113" y1="286.12" x2="117" y2="286.12" stroke="#000" stroke-width="1.4" />
<line x1="483" y1="286.12" x2="479" y2="286.12" stroke="#000" stroke-width="1.4" />
<line x1="113" y1="274.06" x2="117" y2="274.06" stroke="#000" stroke-width="1.4" />
<line x1="483" y1="274.06" x2="479" y2="274.06" stroke="#000" stroke-width="1.4" />
<line x1="113" y1="262" x2="117" y2="262" stroke="#000" stroke-width="1.4" />
<line x1="483" y1="262" x2="479" y2="262" stroke="#000" stroke-width="1.4" />
<line x1="113" y1="249.94" x2="119" y2="249.94" stroke="#000" stroke-width="1.4" />
<line x1="483" y1="249.94" x2="477" y2="249.94" stroke="#000" stroke-width="1.4" />
<line x1="113" y1="237.88" x2="117" y2="237.88" stroke="#000" stroke-width="1.4" />
<line x1="483" y1="237.88" x2="479" y2="237.88" stroke="#000" stroke-width="1.4" />
<line x1="113" y1="225.82" x2="117" y2="225.82" stroke="#000" stroke-width="1.4" />
<line x1="483" y1="225.82" x2="479" y2="225.82" stroke="#000" stroke-width="1.4" />
<line x1="113" y1="213.76" x2="117" y2="213.76" stroke="#000" stroke-width="1.4" />
<line x1="483" y1="213.76" x2="479" y2="213.76" stroke="#000" stroke-width="1.4" />
<line x1="113" y1="201.7" x2="119" y2="201.7" stroke="#000" stroke-width="1.4" />
<line x1="483" y1="201.7" x2="477" y2="201.7" stroke="#000" stroke-width="1.4" />
<line x1="113" y1="189.64" x2="117" y2="189.64" stroke="#000" stroke-width="1.4" />
<line x1="483" y1="189.64" x2="479" y2="189.64" stroke="#000" stroke-width="1.4" />
<line x1="113" y1="177.58" x2="117" y2="177.58" stroke="#000" stroke-width="1.4" />
<line x1="483" y1="177.58" x2="479" y2="177.58" stroke="#000" stroke-width="1.4" />
<line x1="113" y1="165.52" x2="117" y2="165.52" stroke="#000" stroke-width="1.4" />
<line x1="483" y1="165.52" x2="479" y2="165.52" stroke="#000" stroke-width="1.4" />
<line x1="113" y1="153.46" x2="119" y2="153.46" stroke="#000" stroke-width="1.4" />
<line x1="483" y1="153.46" x2="477" y2="153.46" stroke="#000" stroke-width="1.4" />
<line x1="113" y1="141.4" x2="117" y2="141.4" stroke="#000" stroke-width="1.4" />
<line x1="483" y1="141.4" x2="479" y2="141.4" stroke="#000" stroke-width="1.4" />
<line x1="113" y1="129.34" x2="117" y2="129.34" stroke="#000" stroke-width="1.4" />
<line x1="483" y1="129.34" x2="479" y2="129.34" stroke="#000" stroke-width="1.4" />
<line x1="113" y1="117.28" x2="117" y2="117.28" stroke="#000" stroke-width="1.4" />
<line x1="483" y1="117.28" x2="479" y2="117.28" stroke="#000" stroke-width="1.4" />
<line x1="113" y1="105.22" x2="119" y2="105.22" stroke="#000" stroke-width="1.4" />
<line x1="483" y1="105.22" x2="477" y2="105.22" stroke="#000" stroke-width="1.4" />
<line x1="113" y1="93.16" x2="117" y2="93.16" stroke="#000" stroke-width="1.4" />
<line x1="483" y1="93.16" x2="479" y2="93.16" stroke="#000" stroke-width="1.4" />
<line x1="113" y1="454.96" x2="117" y2="454.96" stroke="#000" stroke-width="1.4" />
<line x1="483" y1="454.96" x2="479" y2="454.96" stroke="#000" stroke-width="1.4" />
<rect x="618.5" y="92.7" width="368" height="367.3" fill="none" stroke="#000" stroke-width="1.5"/>
<line x1="636.9" y1="460" x2="636.9" y2="456.8" stroke="#000" stroke-width="1.4" />
<line x1="636.9" y1="92.7" x2="636.9" y2="95.9" stroke="#000" stroke-width="1.4" />
<line x1="655.3" y1="460" x2="655.3" y2="456.8" stroke="#000" stroke-width="1.4" />
<line x1="655.3" y1="92.7" x2="655.3" y2="95.9" stroke="#000" stroke-width="1.4" />
<line x1="673.7" y1="460" x2="673.7" y2="456.8" stroke="#000" stroke-width="1.4" />
<line x1="673.7" y1="92.7" x2="673.7" y2="95.9" stroke="#000" stroke-width="1.4" />
<line x1="692.1" y1="460" x2="692.1" y2="456.8" stroke="#000" stroke-width="1.4" />
<line x1="692.1" y1="92.7" x2="692.1" y2="95.9" stroke="#000" stroke-width="1.4" />
<line x1="710.5" y1="460" x2="710.5" y2="455" stroke="#000" stroke-width="1.4" />
<line x1="710.5" y1="92.7" x2="710.5" y2="97.7" stroke="#000" stroke-width="1.4" />
<line x1="728.9" y1="460" x2="728.9" y2="456.8" stroke="#000" stroke-width="1.4" />
<line x1="728.9" y1="92.7" x2="728.9" y2="95.9" stroke="#000" stroke-width="1.4" />
<line x1="747.3" y1="460" x2="747.3" y2="456.8" stroke="#000" stroke-width="1.4" />
<line x1="747.3" y1="92.7" x2="747.3" y2="95.9" stroke="#000" stroke-width="1.4" />
<line x1="765.7" y1="460" x2="765.7" y2="456.8" stroke="#000" stroke-width="1.4" />
<line x1="765.7" y1="92.7" x2="765.7" y2="95.9" stroke="#000" stroke-width="1.4" />
<line x1="784.1" y1="460" x2="784.1" y2="456.8" stroke="#000" stroke-width="1.4" />
<line x1="784.1" y1="92.7" x2="784.1" y2="95.9" stroke="#000" stroke-width="1.4" />
<line x1="802.5" y1="460" x2="802.5" y2="455" stroke="#000" stroke-width="1.4" />
<line x1="802.5" y1="92.7" x2="802.5" y2="97.7" stroke="#000" stroke-width="1.4" />
<line x1="820.9" y1="460" x2="820.9" y2="456.8" stroke="#000" stroke-width="1.4" />
<line x1="820.9" y1="92.7" x2="820.9" y2="95.9" stroke="#000" stroke-width="1.4" />
<line x1="839.3" y1="460" x2="839.3" y2="456.8" stroke="#000" stroke-width="1.4" />
<line x1="839.3" y1="92.7" x2="839.3" y2="95.9" stroke="#000" stroke-width="1.4" />
<line x1="857.7" y1="460" x2="857.7" y2="456.8" stroke="#000" stroke-width="1.4" />
<line x1="857.7" y1="92.7" x2="857.7" y2="95.9" stroke="#000" stroke-width="1.4" />
<line x1="876.1" y1="460" x2="876.1" y2="456.8" stroke="#000" stroke-width="1.4" />
<line x1="876.1" y1="92.7" x2="876.1" y2="95.9" stroke="#000" stroke-width="1.4" />
<line x1="894.5" y1="460" x2="894.5" y2="455" stroke="#000" stroke-width="1.4" />
<line x1="894.5" y1="92.7" x2="894.5" y2="97.7" stroke="#000" stroke-width="1.4" />
<line x1="912.9" y1="460" x2="912.9" y2="456.8" stroke="#000" stroke-width="1.4" />
<line x1="912.9" y1="92.7" x2="912.9" y2="95.9" stroke="#000" stroke-width="1.4" />
<line x1="931.3" y1="460" x2="931.3" y2="456.8" stroke="#000" stroke-width="1.4" />
<line x1="931.3" y1="92.7" x2="931.3" y2="95.9" stroke="#000" stroke-width="1.4" />
<line x1="949.7" y1="460" x2="949.7" y2="456.8" stroke="#000" stroke-width="1.4" />
<line x1="949.7" y1="92.7" x2="949.7" y2="95.9" stroke="#000" stroke-width="1.4" />
<line x1="968.1" y1="460" x2="968.1" y2="456.8" stroke="#000" stroke-width="1.4" />
<line x1="968.1" y1="92.7" x2="968.1" y2="95.9" stroke="#000" stroke-width="1.4" />
<line x1="618.5" y1="444.8" x2="624.5" y2="444.8" stroke="#000" stroke-width="1.4" />
<line x1="986.5" y1="444.8" x2="980.5" y2="444.8" stroke="#000" stroke-width="1.4" />
<line x1="618.5" y1="432.74" x2="622.5" y2="432.74" stroke="#000" stroke-width="1.4" />
<line x1="986.5" y1="432.74" x2="982.5" y2="432.74" stroke="#000" stroke-width="1.4" />
<line x1="618.5" y1="420.68" x2="622.5" y2="420.68" stroke="#000" stroke-width="1.4" />
<line x1="986.5" y1="420.68" x2="982.5" y2="420.68" stroke="#000" stroke-width="1.4" />
<line x1="618.5" y1="408.62" x2="622.5" y2="408.62" stroke="#000" stroke-width="1.4" />
<line x1="986.5" y1="408.62" x2="982.5" y2="408.62" stroke="#000" stroke-width="1.4" />
<line x1="618.5" y1="396.56" x2="624.5" y2="396.56" stroke="#000" stroke-width="1.4" />
<line x1="986.5" y1="396.56" x2="980.5" y2="396.56" stroke="#000" stroke-width="1.4" />
<line x1="618.5" y1="384.5" x2="622.5" y2="384.5" stroke="#000" stroke-width="1.4" />
<line x1="986.5" y1="384.5" x2="982.5" y2="384.5" stroke="#000" stroke-width="1.4" />
<line x1="618.5" y1="372.44" x2="622.5" y2="372.44" stroke="#000" stroke-width="1.4" />
<line x1="986.5" y1="372.44" x2="982.5" y2="372.44" stroke="#000" stroke-width="1.4" />
<line x1="618.5" y1="360.38" x2="622.5" y2="360.38" stroke="#000" stroke-width="1.4" />
<line x1="986.5" y1="360.38" x2="982.5" y2="360.38" stroke="#000" stroke-width="1.4" />
<line x1="618.5" y1="348.32" x2="624.5" y2="348.32" stroke="#000" stroke-width="1.4" />
<line x1="986.5" y1="348.32" x2="980.5" y2="348.32" stroke="#000" stroke-width="1.4" />
<line x1="618.5" y1="336.26" x2="622.5" y2="336.26" stroke="#000" stroke-width="1.4" />
<line x1="986.5" y1="336.26" x2="982.5" y2="336.26" stroke="#000" stroke-width="1.4" />
<line x1="618.5" y1="324.2" x2="622.5" y2="324.2" stroke="#000" stroke-width="1.4" />
<line x1="986.5" y1="324.2" x2="982.5" y2="324.2" stroke="#000" stroke-width="1.4" />
<line x1="618.5" y1="312.14" x2="622.5" y2="312.14" stroke="#000" stroke-width="1.4" />
<line x1="986.5" y1="312.14" x2="982.5" y2="312.14" stroke="#000" stroke-width="1.4" />
<line x1="618.5" y1="300.08" x2="624.5" y2="300.08" stroke="#000" stroke-width="1.4" />
<line x1="986.5" y1="300.08" x2="980.5" y2="300.08" stroke="#000" stroke-width="1.4" />
<line x1="618.5" y1="288.02" x2="622.5" y2="288.02" stroke="#000" stroke-width="1.4" />
<line x1="986.5" y1="288.02" x2="982.5" y2="288.02" stroke="#000" stroke-width="1.4" />
<line x1="618.5" y1="275.96" x2="622.5" y2="275.96" stroke="#000" stroke-width="1.4" />
<line x1="986.5" y1="275.96" x2="982.5" y2="275.96" stroke="#000" stroke-width="1.4" />
<line x1="618.5" y1="263.9" x2="622.5" y2="263.9" stroke="#000" stroke-width="1.4" />
<line x1="986.5" y1="263.9" x2="982.5" y2="263.9" stroke="#000" stroke-width="1.4" />
<line x1="618.5" y1="251.84" x2="624.5" y2="251.84" stroke="#000" stroke-width="1.4" />
<line x1="986.5" y1="251.84" x2="980.5" y2="251.84" stroke="#000" stroke-width="1.4" />
<line x1="618.5" y1="239.78" x2="622.5" y2="239.78" stroke="#000" stroke-width="1.4" />
<line x1="986.5" y1="239.78" x2="982.5" y2="239.78" stroke="#000" stroke-width="1.4" />
<line x1="618.5" y1="227.72" x2="622.5" y2="227.72" stroke="#000" stroke-width="1.4" />
<line x1="986.5" y1="227.72" x2="982.5" y2="227.72" stroke="#000" stroke-width="1.4" />
<line x1="618.5" y1="215.66" x2="622.5" y2="215.66" stroke="#000" stroke-width="1.4" />
<line x1="986.5" y1="215.66" x2="982.5" y2="215.66" stroke="#000" stroke-width="1.4" />
<line x1="618.5" y1="203.6" x2="624.5" y2="203.6" stroke="#000" stroke-width="1.4" />
<line x1="986.5" y1="203.6" x2="980.5" y2="203.6" stroke="#000" stroke-width="1.4" />
<line x1="618.5" y1="191.54" x2="622.5" y2="191.54" stroke="#000" stroke-width="1.4" />
<line x1="986.5" y1="191.54" x2="982.5" y2="191.54" stroke="#000" stroke-width="1.4" />
<line x1="618.5" y1="179.48" x2="622.5" y2="179.48" stroke="#000" stroke-width="1.4" />
<line x1="986.5" y1="179.48" x2="982.5" y2="179.48" stroke="#000" stroke-width="1.4" />
<line x1="618.5" y1="167.42" x2="622.5" y2="167.42" stroke="#000" stroke-width="1.4" />
<line x1="986.5" y1="167.42" x2="982.5" y2="167.42" stroke="#000" stroke-width="1.4" />
<line x1="618.5" y1="155.36" x2="624.5" y2="155.36" stroke="#000" stroke-width="1.4" />
<line x1="986.5" y1="155.36" x2="980.5" y2="155.36" stroke="#000" stroke-width="1.4" />
<line x1="618.5" y1="143.3" x2="622.5" y2="143.3" stroke="#000" stroke-width="1.4" />
<line x1="986.5" y1="143.3" x2="982.5" y2="143.3" stroke="#000" stroke-width="1.4" />
<line x1="618.5" y1="131.24" x2="622.5" y2="131.24" stroke="#000" stroke-width="1.4" />
<line x1="986.5" y1="131.24" x2="982.5" y2="131.24" stroke="#000" stroke-width="1.4" />
<line x1="618.5" y1="119.18" x2="622.5" y2="119.18" stroke="#000" stroke-width="1.4" />
<line x1="986.5" y1="119.18" x2="982.5" y2="119.18" stroke="#000" stroke-width="1.4" />
<line x1="618.5" y1="107.12" x2="624.5" y2="107.12" stroke="#000" stroke-width="1.4" />
<line x1="986.5" y1="107.12" x2="980.5" y2="107.12" stroke="#000" stroke-width="1.4" />
<line x1="618.5" y1="95.06" x2="622.5" y2="95.06" stroke="#000" stroke-width="1.4" />
<line x1="986.5" y1="95.06" x2="982.5" y2="95.06" stroke="#000" stroke-width="1.4" />
<line x1="618.5" y1="456.86" x2="622.5" y2="456.86" stroke="#000" stroke-width="1.4" />
<line x1="986.5" y1="456.86" x2="982.5" y2="456.86" stroke="#000" stroke-width="1.4" />
<text x="114.55" y="77" font-size="29.5" text-anchor="middle" >3.3</text>
<text x="296.9" y="77" font-size="29.5" text-anchor="middle" >3.6</text>
<text x="479.75" y="77" font-size="29.5" text-anchor="middle" >3.9</text>
<text x="622.05" y="77" font-size="29.5" text-anchor="middle" >3.3</text>
<text x="803.8" y="77" font-size="29.5" text-anchor="middle" >3.6</text>
<text x="984.8" y="77" font-size="29.5" text-anchor="middle" >3.9</text>
<text x="112" y="495" font-size="29.5" text-anchor="middle" > . </text>
<path transform="translate(91.5 495) scale(29.5)" d="M0.373 0L0.275 0L0.275 -0.486L0.109 -0.486L0.109 -0.553C0.2 -0.556 0.262 -0.59 0.3 -0.716L0.373 -0.716Z" fill="#000"/>
<path transform="translate(116.1 495) scale(29.5)" d="M0.373 0L0.275 0L0.275 -0.486L0.109 -0.486L0.109 -0.553C0.2 -0.556 0.262 -0.59 0.3 -0.716L0.373 -0.716Z" fill="#000"/>
<text x="297.5" y="495" font-size="29.5" text-anchor="middle" > .2</text>
<path transform="translate(277 495) scale(29.5)" d="M0.373 0L0.275 0L0.275 -0.486L0.109 -0.486L0.109 -0.553C0.2 -0.556 0.262 -0.59 0.3 -0.716L0.373 -0.716Z" fill="#000"/>
<text x="483.4" y="495" font-size="29.5" text-anchor="middle" > .3</text>
<path transform="translate(462.9 495) scale(29.5)" d="M0.373 0L0.275 0L0.275 -0.486L0.109 -0.486L0.109 -0.553C0.2 -0.556 0.262 -0.59 0.3 -0.716L0.373 -0.716Z" fill="#000"/>
<text x="619" y="495" font-size="29.5" text-anchor="middle" > . </text>
<path transform="translate(598.5 495) scale(29.5)" d="M0.373 0L0.275 0L0.275 -0.486L0.109 -0.486L0.109 -0.553C0.2 -0.556 0.262 -0.59 0.3 -0.716L0.373 -0.716Z" fill="#000"/>
<path transform="translate(623.1 495) scale(29.5)" d="M0.373 0L0.275 0L0.275 -0.486L0.109 -0.486L0.109 -0.553C0.2 -0.556 0.262 -0.59 0.3 -0.716L0.373 -0.716Z" fill="#000"/>
<text x="802" y="495" font-size="29.5" text-anchor="middle" > .2</text>
<path transform="translate(781.5 495) scale(29.5)" d="M0.373 0L0.275 0L0.275 -0.486L0.109 -0.486L0.109 -0.553C0.2 -0.556 0.262 -0.59 0.3 -0.716L0.373 -0.716Z" fill="#000"/>
<text x="983.9" y="495" font-size="29.5" text-anchor="middle" > .3</text>
<path transform="translate(963.4 495) scale(29.5)" d="M0.373 0L0.275 0L0.275 -0.486L0.109 -0.486L0.109 -0.553C0.2 -0.556 0.262 -0.59 0.3 -0.716L0.373 -0.716Z" fill="#000"/>
<text x="356.4" y="540.9" font-size="29.1">Upconverted wavelength (<tspan font-family="Liberation Serif" font-size="32">μ</tspan>m)</text>
<text x="552" y="92.7" font-size="29.5" text-anchor="middle" >(Signal</text>
<text x="552" y="127.7" font-size="29.5" text-anchor="middle" >counts)</text>
<text x="552" y="163.3" font-size="29.5" text-anchor="middle" > 200</text>
<path transform="translate(519.19 163.3) scale(29.5)" d="M0.373 0L0.275 0L0.275 -0.486L0.109 -0.486L0.109 -0.553C0.2 -0.556 0.262 -0.59 0.3 -0.716L0.373 -0.716Z" fill="#000"/>
<text x="552" y="262.5" font-size="29.5" text-anchor="middle" >800</text>
<text x="552" y="360.5" font-size="29.5" text-anchor="middle" >400</text>
<text x="552" y="459.3" font-size="29.5" text-anchor="middle" >0</text>
<text x="367" y="123.5" font-size="29.5" text-anchor="start" >Si film</text>
<text x="345.5" y="172.8" font-size="25"><tspan font-style="italic">F</tspan> (mJ/cm<tspan font-size="17.5" dy="-8.6">2</tspan><tspan dy="8.6">)</tspan></text>
<line x1="361.6" y1="196.8" x2="404.6" y2="196.8" stroke="#284ea0" stroke-width="4.8" stroke-linecap="round"/>
<text x="451.5" y="203.8" font-size="25" text-anchor="end" > .2</text>
<path transform="translate(416.75 203.8) scale(25)" d="M0.373 0L0.275 0L0.275 -0.486L0.109 -0.486L0.109 -0.553C0.2 -0.556 0.262 -0.59 0.3 -0.716L0.373 -0.716Z" fill="#000"/>
<line x1="361.6" y1="227.4" x2="404.6" y2="227.4" stroke="#3898d4" stroke-width="4.8" stroke-linecap="round"/>
<text x="451.5" y="234.4" font-size="25" text-anchor="end" >2.5</text>
<line x1="361.6" y1="258" x2="404.6" y2="258" stroke="#f29496" stroke-width="4.8" stroke-linecap="round"/>
<text x="451.5" y="265" font-size="25" text-anchor="end" >4.2</text>
<line x1="361.6" y1="288.6" x2="404.6" y2="288.6" stroke="#e22024" stroke-width="4.8" stroke-linecap="round"/>
<text x="451.5" y="295.6" font-size="25" text-anchor="end" >5.5</text>
<text x="235.6" y="153.3" font-size="29.5" fill="#e22024">3</text>
<text x="252" y="153.3" font-size="29" fill="#e22024" font-family="Liberation Serif" font-style="italic">ω</text>
<text x="272.6" y="165.9" font-size="21.5" fill="#e22024">L</text>
<text x="808.9" y="127" font-size="29.2" text-anchor="start" >Metasurface</text>
<text x="847.3" y="165" font-size="25"><tspan font-style="italic">F</tspan> (mJ/cm<tspan font-size="17.5" dy="-8.6">2</tspan><tspan dy="8.6">)</tspan></text>
<line x1="880.4" y1="199.6" x2="924" y2="199.6" stroke="#284ea0" stroke-width="4.8" stroke-linecap="round"/>
<text x="969.2" y="206.8" font-size="25" text-anchor="end" > .2</text>
<path transform="translate(934.45 206.8) scale(25)" d="M0.373 0L0.275 0L0.275 -0.486L0.109 -0.486L0.109 -0.553C0.2 -0.556 0.262 -0.59 0.3 -0.716L0.373 -0.716Z" fill="#000"/>
<line x1="880.4" y1="230.17" x2="924" y2="230.17" stroke="#3898d4" stroke-width="4.8" stroke-linecap="round"/>
<text x="969.2" y="237.37" font-size="25" text-anchor="end" > .9</text>
<path transform="translate(934.45 237.37) scale(25)" d="M0.373 0L0.275 0L0.275 -0.486L0.109 -0.486L0.109 -0.553C0.2 -0.556 0.262 -0.59 0.3 -0.716L0.373 -0.716Z" fill="#000"/>
<line x1="880.4" y1="260.74" x2="924" y2="260.74" stroke="#f29496" stroke-width="4.8" stroke-linecap="round"/>
<text x="969.2" y="267.94" font-size="25" text-anchor="end" >3.3</text>
<line x1="880.4" y1="291.31" x2="924" y2="291.31" stroke="#e22024" stroke-width="4.8" stroke-linecap="round"/>
<text x="969.2" y="298.51" font-size="25" text-anchor="end" >5.5</text>
<text x="637.4" y="153.3" font-size="29.5" text-anchor="start" fill="#e22024" >3. </text>
<path transform="translate(662 153.3) scale(29.5)" d="M0.373 0L0.275 0L0.275 -0.486L0.109 -0.486L0.109 -0.553C0.2 -0.556 0.262 -0.59 0.3 -0.716L0.373 -0.716Z" fill="#e22024"/>
<text x="686" y="153.3" font-size="29" fill="#e22024" font-family="Liberation Serif" font-style="italic">ω</text>
<text x="707.1" y="165.3" font-size="21.5" fill="#e22024">L</text>
<text x="-1" y="619.3" font-size="42" text-anchor="start" font-weight="bold">b</text>
<rect x="187.2" y="607.3" width="730.4000000000001" height="437.70000000000005" fill="none" stroke="#000" stroke-width="2"/>
<line x1="187.2" y1="987.74" x2="196.7" y2="987.74" stroke="#000" stroke-width="1.6" />
<line x1="917.6" y1="987.74" x2="908.1" y2="987.74" stroke="#000" stroke-width="1.6" />
<line x1="187.2" y1="954.25" x2="191.5" y2="954.25" stroke="#000" stroke-width="1.6" />
<line x1="917.6" y1="954.25" x2="913.3" y2="954.25" stroke="#000" stroke-width="1.6" />
<line x1="187.2" y1="930.49" x2="191.5" y2="930.49" stroke="#000" stroke-width="1.6" />
<line x1="917.6" y1="930.49" x2="913.3" y2="930.49" stroke="#000" stroke-width="1.6" />
<line x1="187.2" y1="912.06" x2="196.7" y2="912.06" stroke="#000" stroke-width="1.6" />
<line x1="917.6" y1="912.06" x2="908.1" y2="912.06" stroke="#000" stroke-width="1.6" />
<line x1="187.2" y1="897" x2="191.5" y2="897" stroke="#000" stroke-width="1.6" />
<line x1="917.6" y1="897" x2="913.3" y2="897" stroke="#000" stroke-width="1.6" />
<line x1="187.2" y1="884.26" x2="191.5" y2="884.26" stroke="#000" stroke-width="1.6" />
<line x1="917.6" y1="884.26" x2="913.3" y2="884.26" stroke="#000" stroke-width="1.6" />
<line x1="187.2" y1="873.23" x2="191.5" y2="873.23" stroke="#000" stroke-width="1.6" />
<line x1="917.6" y1="873.23" x2="913.3" y2="873.23" stroke="#000" stroke-width="1.6" />
<line x1="187.2" y1="863.5" x2="191.5" y2="863.5" stroke="#000" stroke-width="1.6" />
<line x1="917.6" y1="863.5" x2="913.3" y2="863.5" stroke="#000" stroke-width="1.6" />
<line x1="187.2" y1="854.8" x2="196.7" y2="854.8" stroke="#000" stroke-width="1.6" />
<line x1="917.6" y1="854.8" x2="908.1" y2="854.8" stroke="#000" stroke-width="1.6" />
<line x1="187.2" y1="797.54" x2="196.7" y2="797.54" stroke="#000" stroke-width="1.6" />
<line x1="917.6" y1="797.54" x2="908.1" y2="797.54" stroke="#000" stroke-width="1.6" />
<line x1="187.2" y1="764.05" x2="191.5" y2="764.05" stroke="#000" stroke-width="1.6" />
<line x1="917.6" y1="764.05" x2="913.3" y2="764.05" stroke="#000" stroke-width="1.6" />
<line x1="187.2" y1="740.29" x2="191.5" y2="740.29" stroke="#000" stroke-width="1.6" />
<line x1="917.6" y1="740.29" x2="913.3" y2="740.29" stroke="#000" stroke-width="1.6" />
<line x1="187.2" y1="721.86" x2="196.7" y2="721.86" stroke="#000" stroke-width="1.6" />
<line x1="917.6" y1="721.86" x2="908.1" y2="721.86" stroke="#000" stroke-width="1.6" />
<line x1="187.2" y1="706.8" x2="191.5" y2="706.8" stroke="#000" stroke-width="1.6" />
<line x1="917.6" y1="706.8" x2="913.3" y2="706.8" stroke="#000" stroke-width="1.6" />
<line x1="187.2" y1="694.06" x2="191.5" y2="694.06" stroke="#000" stroke-width="1.6" />
<line x1="917.6" y1="694.06" x2="913.3" y2="694.06" stroke="#000" stroke-width="1.6" />
<line x1="187.2" y1="683.03" x2="191.5" y2="683.03" stroke="#000" stroke-width="1.6" />
<line x1="917.6" y1="683.03" x2="913.3" y2="683.03" stroke="#000" stroke-width="1.6" />
<line x1="187.2" y1="673.3" x2="191.5" y2="673.3" stroke="#000" stroke-width="1.6" />
<line x1="917.6" y1="673.3" x2="913.3" y2="673.3" stroke="#000" stroke-width="1.6" />
<line x1="187.2" y1="664.6" x2="196.7" y2="664.6" stroke="#000" stroke-width="1.6" />
<line x1="917.6" y1="664.6" x2="908.1" y2="664.6" stroke="#000" stroke-width="1.6" />
<line x1="187.2" y1="607.34" x2="196.7" y2="607.34" stroke="#000" stroke-width="1.6" />
<line x1="917.6" y1="607.34" x2="908.1" y2="607.34" stroke="#000" stroke-width="1.6" />
<line x1="224.45" y1="1045" x2="224.45" y2="1040.7" stroke="#000" stroke-width="1.6" />
<line x1="224.45" y1="607.3" x2="224.45" y2="611.6" stroke="#000" stroke-width="1.6" />
<line x1="258.46" y1="1045" x2="258.46" y2="1040.7" stroke="#000" stroke-width="1.6" />
<line x1="258.46" y1="607.3" x2="258.46" y2="611.6" stroke="#000" stroke-width="1.6" />
<line x1="289.75" y1="1045" x2="289.75" y2="1040.7" stroke="#000" stroke-width="1.6" />
<line x1="289.75" y1="607.3" x2="289.75" y2="611.6" stroke="#000" stroke-width="1.6" />
<line x1="318.72" y1="1045" x2="318.72" y2="1040.7" stroke="#000" stroke-width="1.6" />
<line x1="318.72" y1="607.3" x2="318.72" y2="611.6" stroke="#000" stroke-width="1.6" />
<line x1="345.68" y1="1045" x2="345.68" y2="1035.5" stroke="#000" stroke-width="1.6" />
<line x1="345.68" y1="607.3" x2="345.68" y2="616.8" stroke="#000" stroke-width="1.6" />
<line x1="370.91" y1="1045" x2="370.91" y2="1040.7" stroke="#000" stroke-width="1.6" />
<line x1="370.91" y1="607.3" x2="370.91" y2="611.6" stroke="#000" stroke-width="1.6" />
<line x1="394.6" y1="1045" x2="394.6" y2="1040.7" stroke="#000" stroke-width="1.6" />
<line x1="394.6" y1="607.3" x2="394.6" y2="611.6" stroke="#000" stroke-width="1.6" />
<line x1="416.95" y1="1045" x2="416.95" y2="1040.7" stroke="#000" stroke-width="1.6" />
<line x1="416.95" y1="607.3" x2="416.95" y2="611.6" stroke="#000" stroke-width="1.6" />
<line x1="438.08" y1="1045" x2="438.08" y2="1040.7" stroke="#000" stroke-width="1.6" />
<line x1="438.08" y1="607.3" x2="438.08" y2="611.6" stroke="#000" stroke-width="1.6" />
<line x1="458.13" y1="1045" x2="458.13" y2="1035.5" stroke="#000" stroke-width="1.6" />
<line x1="458.13" y1="607.3" x2="458.13" y2="616.8" stroke="#000" stroke-width="1.6" />
<line x1="616.61" y1="1045" x2="616.61" y2="1035.5" stroke="#000" stroke-width="1.6" />
<line x1="616.61" y1="607.3" x2="616.61" y2="616.8" stroke="#000" stroke-width="1.6" />
<line x1="729.05" y1="1045" x2="729.05" y2="1040.7" stroke="#000" stroke-width="1.6" />
<line x1="729.05" y1="607.3" x2="729.05" y2="611.6" stroke="#000" stroke-width="1.6" />
<line x1="816.27" y1="1045" x2="816.27" y2="1035.5" stroke="#000" stroke-width="1.6" />
<line x1="816.27" y1="607.3" x2="816.27" y2="616.8" stroke="#000" stroke-width="1.6" />
<line x1="887.54" y1="1045" x2="887.54" y2="1040.7" stroke="#000" stroke-width="1.6" />
<line x1="887.54" y1="607.3" x2="887.54" y2="611.6" stroke="#000" stroke-width="1.6" />
<line x1="187.2" y1="854.8" x2="577.51" y2="607.3" stroke="#00009c" stroke-width="2.9" />
<line x1="187.2" y1="1045" x2="877.51" y2="607.3" stroke="#000" stroke-width="3.4" />
<line x1="377.7" y1="922.5" x2="377.7" y2="757" stroke="#000090" stroke-width="2.7" />
<path d="M377.7 735.9 L386 763.3 L377.7 756.4 L369.4 763.3 Z" fill="#000090"/>
<path d="M388.8 807.6 C390.3 805.3 392.3 804.8 394.6 805.6 S399.3 808.2 402.3 805.3 M388.8 811.8 C390.3 809.5 392.3 809 394.6 809.8 S399.3 812.4 402.3 809.5" fill="none" stroke="#000" stroke-width="1.6" stroke-linecap="round"/>
<text x="411.3" y="816.1" font-size="29.5" text-anchor="start" > 0</text>
<path transform="translate(411.3 816.1) scale(29.5)" d="M0.373 0L0.275 0L0.275 -0.486L0.109 -0.486L0.109 -0.553C0.2 -0.556 0.262 -0.59 0.3 -0.716L0.373 -0.716Z" fill="#000"/>
<circle cx="258.9" cy="815.6" r="8.4" fill="#0000a8"/>
<circle cx="319" cy="763.3" r="8.4" fill="#0000a8"/>
<circle cx="438" cy="709.1" r="8.4" fill="#0000a8"/>
<circle cx="544.4" cy="676.4" r="8.4" fill="#0000a8"/>
<circle cx="616.8" cy="659.2" r="8.4" fill="#0000a8"/>
<circle cx="745.9" cy="652" r="8.4" fill="#0000a8"/>
<circle cx="798.6" cy="642.3" r="8.4" fill="#0000a8"/>
<circle cx="852.7" cy="635.1" r="8.4" fill="#0000a8"/>
<line x1="319" y1="1034.9" x2="319" y2="945.3" stroke="#000" stroke-width="2.6" />
<line x1="313.5" y1="1034.9" x2="324.5" y2="1034.9" stroke="#000" stroke-width="2.6" />
<line x1="313.5" y1="945.3" x2="324.5" y2="945.3" stroke="#000" stroke-width="2.6" />
<circle cx="319" cy="979.6" r="8.4" fill="#fff" stroke="#000" stroke-width="3"/>
<line x1="438" y1="898.5" x2="438" y2="872" stroke="#000" stroke-width="2.6" />
<line x1="432.5" y1="898.5" x2="443.5" y2="898.5" stroke="#000" stroke-width="2.6" />
<line x1="432.5" y1="872" x2="443.5" y2="872" stroke="#000" stroke-width="2.6" />
<circle cx="438" cy="884.9" r="8.4" fill="#fff" stroke="#000" stroke-width="3"/>
<circle cx="544.4" cy="810.8" r="8.4" fill="#fff" stroke="#000" stroke-width="3"/>
<circle cx="616.8" cy="740.9" r="8.4" fill="#fff" stroke="#000" stroke-width="3"/>
<circle cx="745.2" cy="696.1" r="8.4" fill="#fff" stroke="#000" stroke-width="3"/>
<circle cx="852.7" cy="642" r="8.4" fill="#fff" stroke="#000" stroke-width="3"/>
<text x="176.5" y="670.9" font-size="29.5" text-anchor="end" > 000</text>
<path transform="translate(110.87 670.9) scale(29.5)" d="M0.373 0L0.275 0L0.275 -0.486L0.109 -0.486L0.109 -0.553C0.2 -0.556 0.262 -0.59 0.3 -0.716L0.373 -0.716Z" fill="#000"/>
<text x="176.5" y="861.1" font-size="29.5" text-anchor="end" > 00</text>
<path transform="translate(127.28 861.1) scale(29.5)" d="M0.373 0L0.275 0L0.275 -0.486L0.109 -0.486L0.109 -0.553C0.2 -0.556 0.262 -0.59 0.3 -0.716L0.373 -0.716Z" fill="#000"/>
<text x="176.5" y="1051.3" font-size="29.5" text-anchor="end" > 0</text>
<path transform="translate(143.69 1051.3) scale(29.5)" d="M0.373 0L0.275 0L0.275 -0.486L0.109 -0.486L0.109 -0.553C0.2 -0.556 0.262 -0.59 0.3 -0.716L0.373 -0.716Z" fill="#000"/>
<text x="189.7" y="1081" font-size="29.5" text-anchor="middle" > </text>
<path transform="translate(181.5 1081) scale(29.5)" d="M0.373 0L0.275 0L0.275 -0.486L0.109 -0.486L0.109 -0.553C0.2 -0.556 0.262 -0.59 0.3 -0.716L0.373 -0.716Z" fill="#000"/>
<text x="345.68" y="1081" font-size="29.5" text-anchor="middle" > .5</text>
<path transform="translate(325.18 1081) scale(29.5)" d="M0.373 0L0.275 0L0.275 -0.486L0.109 -0.486L0.109 -0.553C0.2 -0.556 0.262 -0.59 0.3 -0.716L0.373 -0.716Z" fill="#000"/>
<text x="458.33" y="1081" font-size="29.5" text-anchor="middle" >2</text>
<text x="613.61" y="1081" font-size="29.5" text-anchor="middle" >3</text>
<text x="813.77" y="1081" font-size="29.5" text-anchor="middle" >5</text>
<text x="411.3" y="1124.2" font-size="29.2">MIR fluence (mJ/cm<tspan font-size="20" dy="-12.5">2</tspan><tspan dy="12.5" dx="1">)</tspan></text>
<text transform="translate(92.8 1028.7) rotate(-90)" x="0" y="0" font-size="29">Upconversion signal (counts)</text>
<rect x="661" y="791.2" width="229.5" height="229.5" fill="#fff" stroke="#000" stroke-width="1.7"/>
<line x1="661" y1="1017.2" x2="666" y2="1017.2" stroke="#000" stroke-width="1.2" />
<line x1="890.5" y1="1017.2" x2="885.5" y2="1017.2" stroke="#000" stroke-width="1.2" />
<line x1="661" y1="1001.88" x2="663.5" y2="1001.88" stroke="#000" stroke-width="1.2" />
<line x1="890.5" y1="1001.88" x2="888" y2="1001.88" stroke="#000" stroke-width="1.2" />
<line x1="661" y1="992.91" x2="663.5" y2="992.91" stroke="#000" stroke-width="1.2" />
<line x1="890.5" y1="992.91" x2="888" y2="992.91" stroke="#000" stroke-width="1.2" />
<line x1="661" y1="986.56" x2="663.5" y2="986.56" stroke="#000" stroke-width="1.2" />
<line x1="890.5" y1="986.56" x2="888" y2="986.56" stroke="#000" stroke-width="1.2" />
<line x1="661" y1="981.62" x2="663.5" y2="981.62" stroke="#000" stroke-width="1.2" />
<line x1="890.5" y1="981.62" x2="888" y2="981.62" stroke="#000" stroke-width="1.2" />
<line x1="661" y1="977.59" x2="663.5" y2="977.59" stroke="#000" stroke-width="1.2" />
<line x1="890.5" y1="977.59" x2="888" y2="977.59" stroke="#000" stroke-width="1.2" />
<line x1="661" y1="974.18" x2="663.5" y2="974.18" stroke="#000" stroke-width="1.2" />
<line x1="890.5" y1="974.18" x2="888" y2="974.18" stroke="#000" stroke-width="1.2" />
<line x1="661" y1="971.23" x2="663.5" y2="971.23" stroke="#000" stroke-width="1.2" />
<line x1="890.5" y1="971.23" x2="888" y2="971.23" stroke="#000" stroke-width="1.2" />
<line x1="661" y1="968.63" x2="663.5" y2="968.63" stroke="#000" stroke-width="1.2" />
<line x1="890.5" y1="968.63" x2="888" y2="968.63" stroke="#000" stroke-width="1.2" />
<line x1="661" y1="966.3" x2="666" y2="966.3" stroke="#000" stroke-width="1.2" />
<line x1="890.5" y1="966.3" x2="885.5" y2="966.3" stroke="#000" stroke-width="1.2" />
<line x1="661" y1="950.98" x2="663.5" y2="950.98" stroke="#000" stroke-width="1.2" />
<line x1="890.5" y1="950.98" x2="888" y2="950.98" stroke="#000" stroke-width="1.2" />
<line x1="661" y1="942.01" x2="663.5" y2="942.01" stroke="#000" stroke-width="1.2" />
<line x1="890.5" y1="942.01" x2="888" y2="942.01" stroke="#000" stroke-width="1.2" />
<line x1="661" y1="935.66" x2="663.5" y2="935.66" stroke="#000" stroke-width="1.2" />
<line x1="890.5" y1="935.66" x2="888" y2="935.66" stroke="#000" stroke-width="1.2" />
<line x1="661" y1="930.72" x2="663.5" y2="930.72" stroke="#000" stroke-width="1.2" />
<line x1="890.5" y1="930.72" x2="888" y2="930.72" stroke="#000" stroke-width="1.2" />
<line x1="661" y1="926.69" x2="663.5" y2="926.69" stroke="#000" stroke-width="1.2" />
<line x1="890.5" y1="926.69" x2="888" y2="926.69" stroke="#000" stroke-width="1.2" />
<line x1="661" y1="923.28" x2="663.5" y2="923.28" stroke="#000" stroke-width="1.2" />
<line x1="890.5" y1="923.28" x2="888" y2="923.28" stroke="#000" stroke-width="1.2" />
<line x1="661" y1="920.33" x2="663.5" y2="920.33" stroke="#000" stroke-width="1.2" />
<line x1="890.5" y1="920.33" x2="888" y2="920.33" stroke="#000" stroke-width="1.2" />
<line x1="661" y1="917.73" x2="663.5" y2="917.73" stroke="#000" stroke-width="1.2" />
<line x1="890.5" y1="917.73" x2="888" y2="917.73" stroke="#000" stroke-width="1.2" />
<line x1="661" y1="915.4" x2="666" y2="915.4" stroke="#000" stroke-width="1.2" />
<line x1="890.5" y1="915.4" x2="885.5" y2="915.4" stroke="#000" stroke-width="1.2" />
<line x1="661" y1="900.08" x2="663.5" y2="900.08" stroke="#000" stroke-width="1.2" />
<line x1="890.5" y1="900.08" x2="888" y2="900.08" stroke="#000" stroke-width="1.2" />
<line x1="661" y1="891.11" x2="663.5" y2="891.11" stroke="#000" stroke-width="1.2" />
<line x1="890.5" y1="891.11" x2="888" y2="891.11" stroke="#000" stroke-width="1.2" />
<line x1="661" y1="884.76" x2="663.5" y2="884.76" stroke="#000" stroke-width="1.2" />
<line x1="890.5" y1="884.76" x2="888" y2="884.76" stroke="#000" stroke-width="1.2" />
<line x1="661" y1="879.82" x2="663.5" y2="879.82" stroke="#000" stroke-width="1.2" />
<line x1="890.5" y1="879.82" x2="888" y2="879.82" stroke="#000" stroke-width="1.2" />
<line x1="661" y1="875.79" x2="663.5" y2="875.79" stroke="#000" stroke-width="1.2" />
<line x1="890.5" y1="875.79" x2="888" y2="875.79" stroke="#000" stroke-width="1.2" />
<line x1="661" y1="872.38" x2="663.5" y2="872.38" stroke="#000" stroke-width="1.2" />
<line x1="890.5" y1="872.38" x2="888" y2="872.38" stroke="#000" stroke-width="1.2" />
<line x1="661" y1="869.43" x2="663.5" y2="869.43" stroke="#000" stroke-width="1.2" />
<line x1="890.5" y1="869.43" x2="888" y2="869.43" stroke="#000" stroke-width="1.2" />
<line x1="661" y1="866.83" x2="663.5" y2="866.83" stroke="#000" stroke-width="1.2" />
<line x1="890.5" y1="866.83" x2="888" y2="866.83" stroke="#000" stroke-width="1.2" />
<line x1="661" y1="864.5" x2="666" y2="864.5" stroke="#000" stroke-width="1.2" />
<line x1="890.5" y1="864.5" x2="885.5" y2="864.5" stroke="#000" stroke-width="1.2" />
<line x1="661" y1="849.18" x2="663.5" y2="849.18" stroke="#000" stroke-width="1.2" />
<line x1="890.5" y1="849.18" x2="888" y2="849.18" stroke="#000" stroke-width="1.2" />
<line x1="661" y1="840.21" x2="663.5" y2="840.21" stroke="#000" stroke-width="1.2" />
<line x1="890.5" y1="840.21" x2="888" y2="840.21" stroke="#000" stroke-width="1.2" />
<line x1="661" y1="833.86" x2="663.5" y2="833.86" stroke="#000" stroke-width="1.2" />
<line x1="890.5" y1="833.86" x2="888" y2="833.86" stroke="#000" stroke-width="1.2" />
<line x1="661" y1="828.92" x2="663.5" y2="828.92" stroke="#000" stroke-width="1.2" />
<line x1="890.5" y1="828.92" x2="888" y2="828.92" stroke="#000" stroke-width="1.2" />
<line x1="661" y1="824.89" x2="663.5" y2="824.89" stroke="#000" stroke-width="1.2" />
<line x1="890.5" y1="824.89" x2="888" y2="824.89" stroke="#000" stroke-width="1.2" />
<line x1="661" y1="821.48" x2="663.5" y2="821.48" stroke="#000" stroke-width="1.2" />
<line x1="890.5" y1="821.48" x2="888" y2="821.48" stroke="#000" stroke-width="1.2" />
<line x1="661" y1="818.53" x2="663.5" y2="818.53" stroke="#000" stroke-width="1.2" />
<line x1="890.5" y1="818.53" x2="888" y2="818.53" stroke="#000" stroke-width="1.2" />
<line x1="661" y1="815.93" x2="663.5" y2="815.93" stroke="#000" stroke-width="1.2" />
<line x1="890.5" y1="815.93" x2="888" y2="815.93" stroke="#000" stroke-width="1.2" />
<line x1="661" y1="813.6" x2="666" y2="813.6" stroke="#000" stroke-width="1.2" />
<line x1="890.5" y1="813.6" x2="885.5" y2="813.6" stroke="#000" stroke-width="1.2" />
<line x1="661" y1="798.28" x2="663.5" y2="798.28" stroke="#000" stroke-width="1.2" />
<line x1="890.5" y1="798.28" x2="888" y2="798.28" stroke="#000" stroke-width="1.2" />
<line x1="664.8" y1="1020.7" x2="664.8" y2="1015.7" stroke="#000" stroke-width="1.2" />
<line x1="664.8" y1="791.2" x2="664.8" y2="796.2" stroke="#000" stroke-width="1.2" />
<line x1="676.64" y1="1020.7" x2="676.64" y2="1018.2" stroke="#000" stroke-width="1.2" />
<line x1="676.64" y1="791.2" x2="676.64" y2="793.7" stroke="#000" stroke-width="1.2" />
<line x1="687.45" y1="1020.7" x2="687.45" y2="1018.2" stroke="#000" stroke-width="1.2" />
<line x1="687.45" y1="791.2" x2="687.45" y2="793.7" stroke="#000" stroke-width="1.2" />
<line x1="697.39" y1="1020.7" x2="697.39" y2="1018.2" stroke="#000" stroke-width="1.2" />
<line x1="697.39" y1="791.2" x2="697.39" y2="793.7" stroke="#000" stroke-width="1.2" />
<line x1="706.59" y1="1020.7" x2="706.59" y2="1018.2" stroke="#000" stroke-width="1.2" />
<line x1="706.59" y1="791.2" x2="706.59" y2="793.7" stroke="#000" stroke-width="1.2" />
<line x1="715.16" y1="1020.7" x2="715.16" y2="1015.7" stroke="#000" stroke-width="1.2" />
<line x1="715.16" y1="791.2" x2="715.16" y2="796.2" stroke="#000" stroke-width="1.2" />
<line x1="723.18" y1="1020.7" x2="723.18" y2="1018.2" stroke="#000" stroke-width="1.2" />
<line x1="723.18" y1="791.2" x2="723.18" y2="793.7" stroke="#000" stroke-width="1.2" />
<line x1="730.71" y1="1020.7" x2="730.71" y2="1018.2" stroke="#000" stroke-width="1.2" />
<line x1="730.71" y1="791.2" x2="730.71" y2="793.7" stroke="#000" stroke-width="1.2" />
<line x1="737.81" y1="1020.7" x2="737.81" y2="1018.2" stroke="#000" stroke-width="1.2" />
<line x1="737.81" y1="791.2" x2="737.81" y2="793.7" stroke="#000" stroke-width="1.2" />
<line x1="744.52" y1="1020.7" x2="744.52" y2="1018.2" stroke="#000" stroke-width="1.2" />
<line x1="744.52" y1="791.2" x2="744.52" y2="793.7" stroke="#000" stroke-width="1.2" />
<line x1="750.89" y1="1020.7" x2="750.89" y2="1015.7" stroke="#000" stroke-width="1.2" />
<line x1="750.89" y1="791.2" x2="750.89" y2="796.2" stroke="#000" stroke-width="1.2" />
<line x1="801.26" y1="1020.7" x2="801.26" y2="1015.7" stroke="#000" stroke-width="1.2" />
<line x1="801.26" y1="791.2" x2="801.26" y2="796.2" stroke="#000" stroke-width="1.2" />
<line x1="836.99" y1="1020.7" x2="836.99" y2="1018.2" stroke="#000" stroke-width="1.2" />
<line x1="836.99" y1="791.2" x2="836.99" y2="793.7" stroke="#000" stroke-width="1.2" />
<line x1="864.71" y1="1020.7" x2="864.71" y2="1015.7" stroke="#000" stroke-width="1.2" />
<line x1="864.71" y1="791.2" x2="864.71" y2="796.2" stroke="#000" stroke-width="1.2" />
<line x1="887.35" y1="1020.7" x2="887.35" y2="1018.2" stroke="#000" stroke-width="1.2" />
<line x1="887.35" y1="791.2" x2="887.35" y2="793.7" stroke="#000" stroke-width="1.2" />
<path d="M664.8 1017.2 L886 898.7" stroke="#000" stroke-width="1.8"/>
<line x1="745.6" y1="971.9" x2="745.6" y2="882" stroke="#0000a8" stroke-width="2" />
<path d="M745.6 875.5 L749.6 886.5 L745.6 884 L741.6 886.5 Z" fill="#0000a8"/>
<line x1="688.3" y1="965.6" x2="688.3" y2="905.7" stroke="#0000a8" stroke-width="2" />
<line x1="683.3" y1="965.6" x2="693.3" y2="965.6" stroke="#0000a8" stroke-width="2" />
<line x1="683.3" y1="905.7" x2="693.3" y2="905.7" stroke="#0000a8" stroke-width="2" />
<line x1="707.7" y1="897.7" x2="707.7" y2="884.8" stroke="#0000a8" stroke-width="2" />
<line x1="702.7" y1="897.7" x2="712.7" y2="897.7" stroke="#0000a8" stroke-width="2" />
<line x1="702.7" y1="884.8" x2="712.7" y2="884.8" stroke="#0000a8" stroke-width="2" />
<circle cx="688.3" cy="919.6" r="6" fill="#0000a8"/>
<circle cx="707.7" cy="890.6" r="6" fill="#0000a8"/>
<circle cx="745.8" cy="863.8" r="6" fill="#0000a8"/>
<circle cx="779.1" cy="846.6" r="6" fill="#0000a8"/>
<circle cx="800.5" cy="832.1" r="6" fill="#0000a8"/>
<circle cx="841.4" cy="823.1" r="6" fill="#0000a8"/>
<circle cx="858" cy="814.3" r="6" fill="#0000a8"/>
<circle cx="874.8" cy="809.8" r="6" fill="#0000a8"/>
<line x1="841.7" y1="1020.7" x2="841.7" y2="908.1" stroke="#000" stroke-width="1.8" />
<line x1="836.7" y1="908.1" x2="846.7" y2="908.1" stroke="#000" stroke-width="1.8" />
<circle cx="841.7" cy="938.8" r="5.6" fill="#fff" stroke="#000" stroke-width="1.8"/>
<line x1="858" y1="959.7" x2="858" y2="894.2" stroke="#000" stroke-width="1.8" />
<line x1="853" y1="959.7" x2="863" y2="959.7" stroke="#000" stroke-width="1.8" />
<line x1="853" y1="894.2" x2="863" y2="894.2" stroke="#000" stroke-width="1.8" />
<circle cx="858" cy="910.9" r="5.6" fill="#fff" stroke="#000" stroke-width="1.8"/>
<line x1="875.5" y1="922.1" x2="875.5" y2="885.8" stroke="#000" stroke-width="1.8" />
<line x1="870.5" y1="922.1" x2="880.5" y2="922.1" stroke="#000" stroke-width="1.8" />
<line x1="870.5" y1="885.8" x2="880.5" y2="885.8" stroke="#000" stroke-width="1.8" />
<circle cx="875.5" cy="900.4" r="5.6" fill="#fff" stroke="#000" stroke-width="1.8"/>
<text x="639.3" y="1024.5" font-size="24.5" text-anchor="end" > 0</text>
<path transform="translate(612.05 1024.5) scale(24.5)" d="M0.373 0L0.275 0L0.275 -0.486L0.109 -0.486L0.109 -0.553C0.2 -0.556 0.262 -0.59 0.3 -0.716L0.373 -0.716Z" fill="#000"/>
<text x="639.4" y="1015.9" font-size="18.5" text-anchor="start" > </text>
<path transform="translate(639.4 1015.9) scale(18.5)" d="M0.373 0L0.275 0L0.275 -0.486L0.109 -0.486L0.109 -0.553C0.2 -0.556 0.262 -0.59 0.3 -0.716L0.373 -0.716Z" fill="#000"/>
<text x="639.3" y="973.15" font-size="24.5" text-anchor="end" > 0</text>
<path transform="translate(612.05 973.15) scale(24.5)" d="M0.373 0L0.275 0L0.275 -0.486L0.109 -0.486L0.109 -0.553C0.2 -0.556 0.262 -0.59 0.3 -0.716L0.373 -0.716Z" fill="#000"/>
<text x="639.4" y="964.55" font-size="18.5" text-anchor="start" >2</text>
<text x="639.3" y="921.8" font-size="24.5" text-anchor="end" > 0</text>
<path transform="translate(612.05 921.8) scale(24.5)" d="M0.373 0L0.275 0L0.275 -0.486L0.109 -0.486L0.109 -0.553C0.2 -0.556 0.262 -0.59 0.3 -0.716L0.373 -0.716Z" fill="#000"/>
<text x="639.4" y="913.2" font-size="18.5" text-anchor="start" >3</text>
<text x="639.3" y="870.45" font-size="24.5" text-anchor="end" > 0</text>
<path transform="translate(612.05 870.45) scale(24.5)" d="M0.373 0L0.275 0L0.275 -0.486L0.109 -0.486L0.109 -0.553C0.2 -0.556 0.262 -0.59 0.3 -0.716L0.373 -0.716Z" fill="#000"/>
<text x="639.4" y="861.85" font-size="18.5" text-anchor="start" >4</text>
<text x="639.3" y="819.1" font-size="24.5" text-anchor="end" > 0</text>
<path transform="translate(612.05 819.1) scale(24.5)" d="M0.373 0L0.275 0L0.275 -0.486L0.109 -0.486L0.109 -0.553C0.2 -0.556 0.262 -0.59 0.3 -0.716L0.373 -0.716Z" fill="#000"/>
<text x="639.4" y="810.5" font-size="18.5" text-anchor="start" >5</text>
<text x="665.2" y="779.6" font-size="24.5" text-anchor="middle" > </text>
<path transform="translate(658.39 779.6) scale(24.5)" d="M0.373 0L0.275 0L0.275 -0.486L0.109 -0.486L0.109 -0.553C0.2 -0.556 0.262 -0.59 0.3 -0.716L0.373 -0.716Z" fill="#000"/>
<text x="751.4" y="779.6" font-size="24.5" text-anchor="middle" >2</text>
<text x="800.2" y="779.6" font-size="24.5" text-anchor="middle" >3</text>
<text x="863" y="779.6" font-size="24.5" text-anchor="middle" >5</text>
<text x="716" y="740" font-size="25"><tspan font-style="italic">F</tspan> (mJ/cm<tspan font-size="17.5" dy="-8.6">2</tspan><tspan dy="8.6">)</tspan></text>
<text x="758.5" y="906.2" font-size="24.5" text-anchor="start" >&gt; 0</text>
<path transform="translate(772.81 906.2) scale(24.5)" d="M0.373 0L0.275 0L0.275 -0.486L0.109 -0.486L0.109 -0.553C0.2 -0.556 0.262 -0.59 0.3 -0.716L0.373 -0.716Z" fill="#000"/>
<text x="800.06" y="898.4" font-size="18.8">2</text>
<g transform="translate(588.5 1014.6) rotate(-90)">
<text x="0" y="0" font-size="25.3">THG, <tspan font-family="Liberation Serif" font-style="italic">λ</tspan> &lt;  . 7 µm</text>
<path transform="translate(107.25 0) scale(25.3)" d="M0.373 0L0.275 0L0.275 -0.486L0.109 -0.486L0.109 -0.553C0.2 -0.556 0.262 -0.59 0.3 -0.716L0.373 -0.716Z" fill="#000"/>
<path transform="translate(128.35 0) scale(25.3)" d="M0.373 0L0.275 0L0.275 -0.486L0.109 -0.486L0.109 -0.553C0.2 -0.556 0.262 -0.59 0.3 -0.716L0.373 -0.716Z" fill="#000"/>
</g>
<text x="-1" y="1198.4" font-size="42" text-anchor="start" font-weight="bold">c</text>
<rect x="112.3" y="1204.8" width="369.09999999999997" height="368.79999999999995" fill="none" stroke="#000" stroke-width="2"/>
<line x1="127.06" y1="1573.6" x2="127.06" y2="1569.4" stroke="#000" stroke-width="1.6" />
<line x1="127.06" y1="1204.8" x2="127.06" y2="1209" stroke="#000" stroke-width="1.6" />
<line x1="141.83" y1="1573.6" x2="141.83" y2="1569.4" stroke="#000" stroke-width="1.6" />
<line x1="141.83" y1="1204.8" x2="141.83" y2="1209" stroke="#000" stroke-width="1.6" />
<line x1="156.59" y1="1573.6" x2="156.59" y2="1569.4" stroke="#000" stroke-width="1.6" />
<line x1="156.59" y1="1204.8" x2="156.59" y2="1209" stroke="#000" stroke-width="1.6" />
<line x1="171.36" y1="1573.6" x2="171.36" y2="1569.4" stroke="#000" stroke-width="1.6" />
<line x1="171.36" y1="1204.8" x2="171.36" y2="1209" stroke="#000" stroke-width="1.6" />
<line x1="186.12" y1="1573.6" x2="186.12" y2="1567.2" stroke="#000" stroke-width="1.6" />
<line x1="186.12" y1="1204.8" x2="186.12" y2="1211.2" stroke="#000" stroke-width="1.6" />
<line x1="200.88" y1="1573.6" x2="200.88" y2="1569.4" stroke="#000" stroke-width="1.6" />
<line x1="200.88" y1="1204.8" x2="200.88" y2="1209" stroke="#000" stroke-width="1.6" />
<line x1="215.65" y1="1573.6" x2="215.65" y2="1569.4" stroke="#000" stroke-width="1.6" />
<line x1="215.65" y1="1204.8" x2="215.65" y2="1209" stroke="#000" stroke-width="1.6" />
<line x1="230.41" y1="1573.6" x2="230.41" y2="1569.4" stroke="#000" stroke-width="1.6" />
<line x1="230.41" y1="1204.8" x2="230.41" y2="1209" stroke="#000" stroke-width="1.6" />
<line x1="245.18" y1="1573.6" x2="245.18" y2="1569.4" stroke="#000" stroke-width="1.6" />
<line x1="245.18" y1="1204.8" x2="245.18" y2="1209" stroke="#000" stroke-width="1.6" />
<line x1="259.94" y1="1573.6" x2="259.94" y2="1567.2" stroke="#000" stroke-width="1.6" />
<line x1="259.94" y1="1204.8" x2="259.94" y2="1211.2" stroke="#000" stroke-width="1.6" />
<line x1="274.7" y1="1573.6" x2="274.7" y2="1569.4" stroke="#000" stroke-width="1.6" />
<line x1="274.7" y1="1204.8" x2="274.7" y2="1209" stroke="#000" stroke-width="1.6" />
<line x1="289.47" y1="1573.6" x2="289.47" y2="1569.4" stroke="#000" stroke-width="1.6" />
<line x1="289.47" y1="1204.8" x2="289.47" y2="1209" stroke="#000" stroke-width="1.6" />
<line x1="304.23" y1="1573.6" x2="304.23" y2="1569.4" stroke="#000" stroke-width="1.6" />
<line x1="304.23" y1="1204.8" x2="304.23" y2="1209" stroke="#000" stroke-width="1.6" />
<line x1="319" y1="1573.6" x2="319" y2="1569.4" stroke="#000" stroke-width="1.6" />
<line x1="319" y1="1204.8" x2="319" y2="1209" stroke="#000" stroke-width="1.6" />
<line x1="333.76" y1="1573.6" x2="333.76" y2="1567.2" stroke="#000" stroke-width="1.6" />
<line x1="333.76" y1="1204.8" x2="333.76" y2="1211.2" stroke="#000" stroke-width="1.6" />
<line x1="348.52" y1="1573.6" x2="348.52" y2="1569.4" stroke="#000" stroke-width="1.6" />
<line x1="348.52" y1="1204.8" x2="348.52" y2="1209" stroke="#000" stroke-width="1.6" />
<line x1="363.29" y1="1573.6" x2="363.29" y2="1569.4" stroke="#000" stroke-width="1.6" />
<line x1="363.29" y1="1204.8" x2="363.29" y2="1209" stroke="#000" stroke-width="1.6" />
<line x1="378.05" y1="1573.6" x2="378.05" y2="1569.4" stroke="#000" stroke-width="1.6" />
<line x1="378.05" y1="1204.8" x2="378.05" y2="1209" stroke="#000" stroke-width="1.6" />
<line x1="392.82" y1="1573.6" x2="392.82" y2="1569.4" stroke="#000" stroke-width="1.6" />
<line x1="392.82" y1="1204.8" x2="392.82" y2="1209" stroke="#000" stroke-width="1.6" />
<line x1="407.58" y1="1573.6" x2="407.58" y2="1567.2" stroke="#000" stroke-width="1.6" />
<line x1="407.58" y1="1204.8" x2="407.58" y2="1211.2" stroke="#000" stroke-width="1.6" />
<line x1="422.34" y1="1573.6" x2="422.34" y2="1569.4" stroke="#000" stroke-width="1.6" />
<line x1="422.34" y1="1204.8" x2="422.34" y2="1209" stroke="#000" stroke-width="1.6" />
<line x1="437.11" y1="1573.6" x2="437.11" y2="1569.4" stroke="#000" stroke-width="1.6" />
<line x1="437.11" y1="1204.8" x2="437.11" y2="1209" stroke="#000" stroke-width="1.6" />
<line x1="451.87" y1="1573.6" x2="451.87" y2="1569.4" stroke="#000" stroke-width="1.6" />
<line x1="451.87" y1="1204.8" x2="451.87" y2="1209" stroke="#000" stroke-width="1.6" />
<line x1="466.64" y1="1573.6" x2="466.64" y2="1569.4" stroke="#000" stroke-width="1.6" />
<line x1="466.64" y1="1204.8" x2="466.64" y2="1209" stroke="#000" stroke-width="1.6" />
<line x1="112.3" y1="1565.32" x2="116.5" y2="1565.32" stroke="#000" stroke-width="1.6" />
<line x1="481.4" y1="1565.32" x2="477.2" y2="1565.32" stroke="#000" stroke-width="1.6" />
<line x1="112.3" y1="1546.86" x2="116.5" y2="1546.86" stroke="#000" stroke-width="1.6" />
<line x1="481.4" y1="1546.86" x2="477.2" y2="1546.86" stroke="#000" stroke-width="1.6" />
<line x1="112.3" y1="1528.4" x2="118.7" y2="1528.4" stroke="#000" stroke-width="1.6" />
<line x1="481.4" y1="1528.4" x2="475" y2="1528.4" stroke="#000" stroke-width="1.6" />
<line x1="112.3" y1="1509.94" x2="116.5" y2="1509.94" stroke="#000" stroke-width="1.6" />
<line x1="481.4" y1="1509.94" x2="477.2" y2="1509.94" stroke="#000" stroke-width="1.6" />
<line x1="112.3" y1="1491.48" x2="116.5" y2="1491.48" stroke="#000" stroke-width="1.6" />
<line x1="481.4" y1="1491.48" x2="477.2" y2="1491.48" stroke="#000" stroke-width="1.6" />
<line x1="112.3" y1="1473.02" x2="116.5" y2="1473.02" stroke="#000" stroke-width="1.6" />
<line x1="481.4" y1="1473.02" x2="477.2" y2="1473.02" stroke="#000" stroke-width="1.6" />
<line x1="112.3" y1="1454.56" x2="116.5" y2="1454.56" stroke="#000" stroke-width="1.6" />
<line x1="481.4" y1="1454.56" x2="477.2" y2="1454.56" stroke="#000" stroke-width="1.6" />
<line x1="112.3" y1="1436.1" x2="118.7" y2="1436.1" stroke="#000" stroke-width="1.6" />
<line x1="481.4" y1="1436.1" x2="475" y2="1436.1" stroke="#000" stroke-width="1.6" />
<line x1="112.3" y1="1417.64" x2="116.5" y2="1417.64" stroke="#000" stroke-width="1.6" />
<line x1="481.4" y1="1417.64" x2="477.2" y2="1417.64" stroke="#000" stroke-width="1.6" />
<line x1="112.3" y1="1399.18" x2="116.5" y2="1399.18" stroke="#000" stroke-width="1.6" />
<line x1="481.4" y1="1399.18" x2="477.2" y2="1399.18" stroke="#000" stroke-width="1.6" />
<line x1="112.3" y1="1380.72" x2="116.5" y2="1380.72" stroke="#000" stroke-width="1.6" />
<line x1="481.4" y1="1380.72" x2="477.2" y2="1380.72" stroke="#000" stroke-width="1.6" />
<line x1="112.3" y1="1362.26" x2="116.5" y2="1362.26" stroke="#000" stroke-width="1.6" />
<line x1="481.4" y1="1362.26" x2="477.2" y2="1362.26" stroke="#000" stroke-width="1.6" />
<line x1="112.3" y1="1343.8" x2="118.7" y2="1343.8" stroke="#000" stroke-width="1.6" />
<line x1="481.4" y1="1343.8" x2="475" y2="1343.8" stroke="#000" stroke-width="1.6" />
<line x1="112.3" y1="1325.34" x2="116.5" y2="1325.34" stroke="#000" stroke-width="1.6" />
<line x1="481.4" y1="1325.34" x2="477.2" y2="1325.34" stroke="#000" stroke-width="1.6" />
<line x1="112.3" y1="1306.88" x2="116.5" y2="1306.88" stroke="#000" stroke-width="1.6" />
<line x1="481.4" y1="1306.88" x2="477.2" y2="1306.88" stroke="#000" stroke-width="1.6" />
<line x1="112.3" y1="1288.42" x2="116.5" y2="1288.42" stroke="#000" stroke-width="1.6" />
<line x1="481.4" y1="1288.42" x2="477.2" y2="1288.42" stroke="#000" stroke-width="1.6" />
<line x1="112.3" y1="1269.96" x2="116.5" y2="1269.96" stroke="#000" stroke-width="1.6" />
<line x1="481.4" y1="1269.96" x2="477.2" y2="1269.96" stroke="#000" stroke-width="1.6" />
<line x1="112.3" y1="1251.5" x2="118.7" y2="1251.5" stroke="#000" stroke-width="1.6" />
<line x1="481.4" y1="1251.5" x2="475" y2="1251.5" stroke="#000" stroke-width="1.6" />
<line x1="112.3" y1="1233.04" x2="116.5" y2="1233.04" stroke="#000" stroke-width="1.6" />
<line x1="481.4" y1="1233.04" x2="477.2" y2="1233.04" stroke="#000" stroke-width="1.6" />
<line x1="112.3" y1="1214.58" x2="116.5" y2="1214.58" stroke="#000" stroke-width="1.6" />
<line x1="481.4" y1="1214.58" x2="477.2" y2="1214.58" stroke="#000" stroke-width="1.6" />
<circle cx="142.9" cy="1248.45" r="6.6" fill="#fff" stroke="#000" stroke-width="2.1"/>
<circle cx="179.58" cy="1250.39" r="6.6" fill="#fff" stroke="#000" stroke-width="2.1"/>
<circle cx="223.61" cy="1254.27" r="6.6" fill="#fff" stroke="#000" stroke-width="2.1"/>
<circle cx="260.29" cy="1254.27" r="6.6" fill="#fff" stroke="#000" stroke-width="2.1"/>
<circle cx="348.33" cy="1248.73" r="6.6" fill="#fff" stroke="#000" stroke-width="2.1"/>
<circle cx="392.36" cy="1248.73" r="6.6" fill="#fff" stroke="#000" stroke-width="2.1"/>
<circle cx="443.72" cy="1252.42" r="6.6" fill="#fff" stroke="#000" stroke-width="2.1"/>
<circle cx="128.22" cy="1353.03" r="6.9" fill="#0000a8"/>
<circle cx="142.9" cy="1380.72" r="6.9" fill="#0000a8"/>
<circle cx="179.58" cy="1436.1" r="6.9" fill="#0000a8"/>
<circle cx="223.61" cy="1491.48" r="6.9" fill="#0000a8"/>
<circle cx="260.29" cy="1519.17" r="6.9" fill="#0000a8"/>
<circle cx="348.33" cy="1528.4" r="6.9" fill="#0000a8"/>
<circle cx="392.36" cy="1528.4" r="6.9" fill="#0000a8"/>
<circle cx="443.72" cy="1546.86" r="6.9" fill="#0000a8"/>
<text x="328.5" y="1290" font-size="29.5" text-anchor="start" >Film</text>
<text x="276.3" y="1464.7" font-size="29.1" text-anchor="start" >Metasurface</text>
<text x="101.3" y="1261" font-size="29.5" text-anchor="end" >0</text>
<text x="101.3" y="1353.3" font-size="29.5" text-anchor="end" >− 0</text>
<path transform="translate(68.49 1353.3) scale(29.5)" d="M0.373 0L0.275 0L0.275 -0.486L0.109 -0.486L0.109 -0.553C0.2 -0.556 0.262 -0.59 0.3 -0.716L0.373 -0.716Z" fill="#000"/>
<text x="101.3" y="1445.6" font-size="29.5" text-anchor="end" >−20</text>
<text x="101.3" y="1537.9" font-size="29.5" text-anchor="end" >−30</text>
<text x="113.2" y="1609.2" font-size="29.5" text-anchor="middle" > </text>
<path transform="translate(105 1609.2) scale(29.5)" d="M0.373 0L0.275 0L0.275 -0.486L0.109 -0.486L0.109 -0.553C0.2 -0.556 0.262 -0.59 0.3 -0.716L0.373 -0.716Z" fill="#000"/>
<text x="185.8" y="1609.2" font-size="29.5" text-anchor="middle" >2</text>
<text x="259.2" y="1609.2" font-size="29.5" text-anchor="middle" >3</text>
<text x="333.3" y="1609.2" font-size="29.5" text-anchor="middle" >4</text>
<text x="406.6" y="1609.2" font-size="29.5" text-anchor="middle" >5</text>
<text x="479.8" y="1609.2" font-size="29.5" text-anchor="middle" >6</text>
<text x="151" y="1657.2" font-size="29">MIR fluence (mJ/cm<tspan font-size="20" dy="-12.5" dx="0.5">2</tspan><tspan dy="12.5" dx="0.6">)</tspan></text>
<text transform="translate(24 1568) rotate(-90)" x="0" y="0" font-size="29">Relative peak position (nm)</text>
<text x="523.7" y="1197.9" font-size="42" text-anchor="start" font-weight="bold">d</text>
<rect x="618.8" y="1204.8" width="369.80000000000007" height="369.20000000000005" fill="none" stroke="#000" stroke-width="2"/>
<line x1="633.59" y1="1574" x2="633.59" y2="1569.8" stroke="#000" stroke-width="1.6" />
<line x1="633.59" y1="1204.8" x2="633.59" y2="1209" stroke="#000" stroke-width="1.6" />
<line x1="648.38" y1="1574" x2="648.38" y2="1569.8" stroke="#000" stroke-width="1.6" />
<line x1="648.38" y1="1204.8" x2="648.38" y2="1209" stroke="#000" stroke-width="1.6" />
<line x1="663.18" y1="1574" x2="663.18" y2="1569.8" stroke="#000" stroke-width="1.6" />
<line x1="663.18" y1="1204.8" x2="663.18" y2="1209" stroke="#000" stroke-width="1.6" />
<line x1="677.97" y1="1574" x2="677.97" y2="1569.8" stroke="#000" stroke-width="1.6" />
<line x1="677.97" y1="1204.8" x2="677.97" y2="1209" stroke="#000" stroke-width="1.6" />
<line x1="692.76" y1="1574" x2="692.76" y2="1567.6" stroke="#000" stroke-width="1.6" />
<line x1="692.76" y1="1204.8" x2="692.76" y2="1211.2" stroke="#000" stroke-width="1.6" />
<line x1="707.55" y1="1574" x2="707.55" y2="1569.8" stroke="#000" stroke-width="1.6" />
<line x1="707.55" y1="1204.8" x2="707.55" y2="1209" stroke="#000" stroke-width="1.6" />
<line x1="722.34" y1="1574" x2="722.34" y2="1569.8" stroke="#000" stroke-width="1.6" />
<line x1="722.34" y1="1204.8" x2="722.34" y2="1209" stroke="#000" stroke-width="1.6" />
<line x1="737.14" y1="1574" x2="737.14" y2="1569.8" stroke="#000" stroke-width="1.6" />
<line x1="737.14" y1="1204.8" x2="737.14" y2="1209" stroke="#000" stroke-width="1.6" />
<line x1="751.93" y1="1574" x2="751.93" y2="1569.8" stroke="#000" stroke-width="1.6" />
<line x1="751.93" y1="1204.8" x2="751.93" y2="1209" stroke="#000" stroke-width="1.6" />
<line x1="766.72" y1="1574" x2="766.72" y2="1567.6" stroke="#000" stroke-width="1.6" />
<line x1="766.72" y1="1204.8" x2="766.72" y2="1211.2" stroke="#000" stroke-width="1.6" />
<line x1="781.51" y1="1574" x2="781.51" y2="1569.8" stroke="#000" stroke-width="1.6" />
<line x1="781.51" y1="1204.8" x2="781.51" y2="1209" stroke="#000" stroke-width="1.6" />
<line x1="796.3" y1="1574" x2="796.3" y2="1569.8" stroke="#000" stroke-width="1.6" />
<line x1="796.3" y1="1204.8" x2="796.3" y2="1209" stroke="#000" stroke-width="1.6" />
<line x1="811.1" y1="1574" x2="811.1" y2="1569.8" stroke="#000" stroke-width="1.6" />
<line x1="811.1" y1="1204.8" x2="811.1" y2="1209" stroke="#000" stroke-width="1.6" />
<line x1="825.89" y1="1574" x2="825.89" y2="1569.8" stroke="#000" stroke-width="1.6" />
<line x1="825.89" y1="1204.8" x2="825.89" y2="1209" stroke="#000" stroke-width="1.6" />
<line x1="840.68" y1="1574" x2="840.68" y2="1567.6" stroke="#000" stroke-width="1.6" />
<line x1="840.68" y1="1204.8" x2="840.68" y2="1211.2" stroke="#000" stroke-width="1.6" />
<line x1="855.47" y1="1574" x2="855.47" y2="1569.8" stroke="#000" stroke-width="1.6" />
<line x1="855.47" y1="1204.8" x2="855.47" y2="1209" stroke="#000" stroke-width="1.6" />
<line x1="870.26" y1="1574" x2="870.26" y2="1569.8" stroke="#000" stroke-width="1.6" />
<line x1="870.26" y1="1204.8" x2="870.26" y2="1209" stroke="#000" stroke-width="1.6" />
<line x1="885.06" y1="1574" x2="885.06" y2="1569.8" stroke="#000" stroke-width="1.6" />
<line x1="885.06" y1="1204.8" x2="885.06" y2="1209" stroke="#000" stroke-width="1.6" />
<line x1="899.85" y1="1574" x2="899.85" y2="1569.8" stroke="#000" stroke-width="1.6" />
<line x1="899.85" y1="1204.8" x2="899.85" y2="1209" stroke="#000" stroke-width="1.6" />
<line x1="914.64" y1="1574" x2="914.64" y2="1567.6" stroke="#000" stroke-width="1.6" />
<line x1="914.64" y1="1204.8" x2="914.64" y2="1211.2" stroke="#000" stroke-width="1.6" />
<line x1="929.43" y1="1574" x2="929.43" y2="1569.8" stroke="#000" stroke-width="1.6" />
<line x1="929.43" y1="1204.8" x2="929.43" y2="1209" stroke="#000" stroke-width="1.6" />
<line x1="944.22" y1="1574" x2="944.22" y2="1569.8" stroke="#000" stroke-width="1.6" />
<line x1="944.22" y1="1204.8" x2="944.22" y2="1209" stroke="#000" stroke-width="1.6" />
<line x1="959.02" y1="1574" x2="959.02" y2="1569.8" stroke="#000" stroke-width="1.6" />
<line x1="959.02" y1="1204.8" x2="959.02" y2="1209" stroke="#000" stroke-width="1.6" />
<line x1="973.81" y1="1574" x2="973.81" y2="1569.8" stroke="#000" stroke-width="1.6" />
<line x1="973.81" y1="1204.8" x2="973.81" y2="1209" stroke="#000" stroke-width="1.6" />
<line x1="618.8" y1="1555.54" x2="623" y2="1555.54" stroke="#000" stroke-width="1.6" />
<line x1="988.6" y1="1555.54" x2="984.4" y2="1555.54" stroke="#000" stroke-width="1.6" />
<line x1="618.8" y1="1537.08" x2="623" y2="1537.08" stroke="#000" stroke-width="1.6" />
<line x1="988.6" y1="1537.08" x2="984.4" y2="1537.08" stroke="#000" stroke-width="1.6" />
<line x1="618.8" y1="1518.62" x2="623" y2="1518.62" stroke="#000" stroke-width="1.6" />
<line x1="988.6" y1="1518.62" x2="984.4" y2="1518.62" stroke="#000" stroke-width="1.6" />
<line x1="618.8" y1="1500.16" x2="623" y2="1500.16" stroke="#000" stroke-width="1.6" />
<line x1="988.6" y1="1500.16" x2="984.4" y2="1500.16" stroke="#000" stroke-width="1.6" />
<line x1="618.8" y1="1481.7" x2="625.2" y2="1481.7" stroke="#000" stroke-width="1.6" />
<line x1="988.6" y1="1481.7" x2="982.2" y2="1481.7" stroke="#000" stroke-width="1.6" />
<line x1="618.8" y1="1463.24" x2="623" y2="1463.24" stroke="#000" stroke-width="1.6" />
<line x1="988.6" y1="1463.24" x2="984.4" y2="1463.24" stroke="#000" stroke-width="1.6" />
<line x1="618.8" y1="1444.78" x2="623" y2="1444.78" stroke="#000" stroke-width="1.6" />
<line x1="988.6" y1="1444.78" x2="984.4" y2="1444.78" stroke="#000" stroke-width="1.6" />
<line x1="618.8" y1="1426.32" x2="623" y2="1426.32" stroke="#000" stroke-width="1.6" />
<line x1="988.6" y1="1426.32" x2="984.4" y2="1426.32" stroke="#000" stroke-width="1.6" />
<line x1="618.8" y1="1407.86" x2="623" y2="1407.86" stroke="#000" stroke-width="1.6" />
<line x1="988.6" y1="1407.86" x2="984.4" y2="1407.86" stroke="#000" stroke-width="1.6" />
<line x1="618.8" y1="1389.4" x2="625.2" y2="1389.4" stroke="#000" stroke-width="1.6" />
<line x1="988.6" y1="1389.4" x2="982.2" y2="1389.4" stroke="#000" stroke-width="1.6" />
<line x1="618.8" y1="1370.94" x2="623" y2="1370.94" stroke="#000" stroke-width="1.6" />
<line x1="988.6" y1="1370.94" x2="984.4" y2="1370.94" stroke="#000" stroke-width="1.6" />
<line x1="618.8" y1="1352.48" x2="623" y2="1352.48" stroke="#000" stroke-width="1.6" />
<line x1="988.6" y1="1352.48" x2="984.4" y2="1352.48" stroke="#000" stroke-width="1.6" />
<line x1="618.8" y1="1334.02" x2="623" y2="1334.02" stroke="#000" stroke-width="1.6" />
<line x1="988.6" y1="1334.02" x2="984.4" y2="1334.02" stroke="#000" stroke-width="1.6" />
<line x1="618.8" y1="1315.56" x2="623" y2="1315.56" stroke="#000" stroke-width="1.6" />
<line x1="988.6" y1="1315.56" x2="984.4" y2="1315.56" stroke="#000" stroke-width="1.6" />
<line x1="618.8" y1="1297.1" x2="625.2" y2="1297.1" stroke="#000" stroke-width="1.6" />
<line x1="988.6" y1="1297.1" x2="982.2" y2="1297.1" stroke="#000" stroke-width="1.6" />
<line x1="618.8" y1="1278.64" x2="623" y2="1278.64" stroke="#000" stroke-width="1.6" />
<line x1="988.6" y1="1278.64" x2="984.4" y2="1278.64" stroke="#000" stroke-width="1.6" />
<line x1="618.8" y1="1260.18" x2="623" y2="1260.18" stroke="#000" stroke-width="1.6" />
<line x1="988.6" y1="1260.18" x2="984.4" y2="1260.18" stroke="#000" stroke-width="1.6" />
<line x1="618.8" y1="1241.72" x2="623" y2="1241.72" stroke="#000" stroke-width="1.6" />
<line x1="988.6" y1="1241.72" x2="984.4" y2="1241.72" stroke="#000" stroke-width="1.6" />
<line x1="618.8" y1="1223.26" x2="623" y2="1223.26" stroke="#000" stroke-width="1.6" />
<line x1="988.6" y1="1223.26" x2="984.4" y2="1223.26" stroke="#000" stroke-width="1.6" />
<circle cx="646.9" cy="1462.6" r="7" fill="#fff" stroke="#000" stroke-width="2.3"/>
<circle cx="684.3" cy="1496.4" r="7" fill="#fff" stroke="#000" stroke-width="2.3"/>
<circle cx="728.8" cy="1489.5" r="7" fill="#fff" stroke="#000" stroke-width="2.3"/>
<circle cx="766.6" cy="1471.9" r="7" fill="#fff" stroke="#000" stroke-width="2.3"/>
<circle cx="855.6" cy="1480.5" r="7" fill="#fff" stroke="#000" stroke-width="2.3"/>
<circle cx="950.7" cy="1464.8" r="7" fill="#fff" stroke="#000" stroke-width="2.3"/>
<circle cx="633.5" cy="1557.4" r="6.9" fill="#0000a8"/>
<circle cx="646.9" cy="1482.7" r="6.9" fill="#0000a8"/>
<circle cx="684.3" cy="1446.9" r="6.9" fill="#0000a8"/>
<circle cx="729.1" cy="1391.6" r="6.9" fill="#0000a8"/>
<circle cx="767" cy="1353.7" r="6.9" fill="#0000a8"/>
<circle cx="855.6" cy="1298.4" r="6.9" fill="#0000a8"/>
<circle cx="899.9" cy="1243.2" r="6.9" fill="#0000a8"/>
<circle cx="951.2" cy="1222.7" r="6.9" fill="#0000a8"/>
<text x="702.7" y="1255.6" font-size="29.1" text-anchor="start" >Metasurface</text>
<text x="838.7" y="1523.5" font-size="29.5" text-anchor="start" >Film</text>
<text x="605.5" y="1214.2" font-size="29.5" text-anchor="end" >45</text>
<text x="605.5" y="1306.5" font-size="29.5" text-anchor="end" >40</text>
<text x="605.5" y="1398.8" font-size="29.5" text-anchor="end" >35</text>
<text x="605.5" y="1491.1" font-size="29.5" text-anchor="end" >30</text>
<text x="605.5" y="1583.4" font-size="29.5" text-anchor="end" >25</text>
<text x="621.3" y="1609.2" font-size="29.5" text-anchor="middle" > </text>
<path transform="translate(613.1 1609.2) scale(29.5)" d="M0.373 0L0.275 0L0.275 -0.486L0.109 -0.486L0.109 -0.553C0.2 -0.556 0.262 -0.59 0.3 -0.716L0.373 -0.716Z" fill="#000"/>
<text x="693.8" y="1609.2" font-size="29.5" text-anchor="middle" >2</text>
<text x="768.2" y="1609.2" font-size="29.5" text-anchor="middle" >3</text>
<text x="841.3" y="1609.2" font-size="29.5" text-anchor="middle" >4</text>
<text x="914.8" y="1609.2" font-size="29.5" text-anchor="middle" >5</text>
<text x="988.6" y="1609.2" font-size="29.5" text-anchor="middle" >6</text>
<text x="668" y="1657.3" font-size="29.1">MIR fluence (mJ/cm<tspan font-size="20" dy="-12.5" dx="0.5">2</tspan><tspan dy="12.5" dx="0.6">)</tspan></text>
<text transform="translate(549 1538.8) rotate(-90)" x="0" y="0" font-size="29.25">Spectrum FWHM (nm)</text>
</svg>
</body></html>
